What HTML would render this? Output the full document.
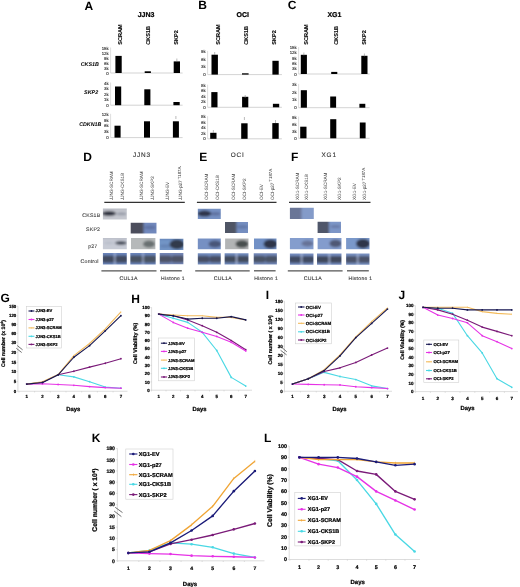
<!DOCTYPE html>
<html><head><meta charset="utf-8"><style>
html,body{margin:0;padding:0;background:#fff;}
svg{display:block;}
text{font-family:"Liberation Sans", sans-serif;text-rendering:geometricPrecision;}
</style></head><body>
<svg width="520" height="587" viewBox="0 0 520 587" font-family="Liberation Sans">
<defs>
<filter id="bl" x="-20%" y="-30%" width="140%" height="160%"><feGaussianBlur stdDeviation="0.9"/></filter>
<filter id="soft" x="0" y="0" width="520" height="587" filterUnits="userSpaceOnUse"><feGaussianBlur stdDeviation="0.35"/></filter>
<filter id="bl2" x="-20%" y="-30%" width="140%" height="160%"><feGaussianBlur stdDeviation="0.5"/></filter>
</defs>
<rect x="0" y="0" width="520" height="587" fill="#fff"/>
<g filter="url(#soft)">
<rect x="0" y="0" width="520" height="587" fill="#fff"/>
<text x="84.50" y="9.60" font-size="12" text-anchor="start" font-weight="bold" font-style="normal" fill="#000" >A</text>
<text x="146.00" y="17.00" font-size="7" text-anchor="middle" font-weight="bold" font-style="normal" fill="#000" stroke="#000" stroke-width="0.22" >JJN3</text>
<text transform="translate(121.50,44.80) rotate(-90)" x="0" y="0" font-size="5.6" text-anchor="start" font-weight="bold" fill="#000" stroke="#000" stroke-width="0.08" >SCRAM</text>
<text transform="translate(149.90,44.80) rotate(-90)" x="0" y="0" font-size="5.6" text-anchor="start" font-weight="bold" fill="#000" stroke="#000" stroke-width="0.08" >CKS1B</text>
<text transform="translate(178.20,44.80) rotate(-90)" x="0" y="0" font-size="5.6" text-anchor="start" font-weight="bold" fill="#000" stroke="#000" stroke-width="0.08" >SKP2</text>
<line x1="110.60" y1="47.50" x2="110.60" y2="73.00" stroke="#c8c8c8" stroke-width="0.6" />
<line x1="110.60" y1="73.00" x2="182.60" y2="73.00" stroke="#c8c8c8" stroke-width="0.8" />
<text x="108.60" y="49.50" font-size="4.3" text-anchor="end" font-weight="normal" font-style="normal" fill="#333" stroke="#333" stroke-width="0.14" >15k</text>
<text x="108.60" y="54.50" font-size="4.3" text-anchor="end" font-weight="normal" font-style="normal" fill="#333" stroke="#333" stroke-width="0.14" >12k</text>
<text x="108.60" y="59.50" font-size="4.3" text-anchor="end" font-weight="normal" font-style="normal" fill="#333" stroke="#333" stroke-width="0.14" >9k</text>
<text x="108.60" y="64.50" font-size="4.3" text-anchor="end" font-weight="normal" font-style="normal" fill="#333" stroke="#333" stroke-width="0.14" >6k</text>
<text x="108.60" y="69.50" font-size="4.3" text-anchor="end" font-weight="normal" font-style="normal" fill="#333" stroke="#333" stroke-width="0.14" >3k</text>
<text x="108.60" y="74.50" font-size="4.3" text-anchor="end" font-weight="normal" font-style="normal" fill="#333" stroke="#333" stroke-width="0.14" >0</text>
<rect x="115.40" y="55.90" width="6.30" height="17.10" fill="#000" />
<rect x="144.70" y="71.30" width="6.20" height="1.70" fill="#000" />
<rect x="173.70" y="61.40" width="6.30" height="11.60" fill="#000" />
<line x1="176.85" y1="58.50" x2="176.85" y2="61.50" stroke="#777" stroke-width="0.5" />
<line x1="110.60" y1="82.50" x2="110.60" y2="105.20" stroke="#c8c8c8" stroke-width="0.6" />
<line x1="110.60" y1="105.20" x2="182.60" y2="105.20" stroke="#c8c8c8" stroke-width="0.8" />
<text x="108.60" y="84.50" font-size="4.3" text-anchor="end" font-weight="normal" font-style="normal" fill="#333" stroke="#333" stroke-width="0.14" >4k</text>
<text x="108.60" y="90.00" font-size="4.3" text-anchor="end" font-weight="normal" font-style="normal" fill="#333" stroke="#333" stroke-width="0.14" >3k</text>
<text x="108.60" y="95.50" font-size="4.3" text-anchor="end" font-weight="normal" font-style="normal" fill="#333" stroke="#333" stroke-width="0.14" >2k</text>
<text x="108.60" y="101.00" font-size="4.3" text-anchor="end" font-weight="normal" font-style="normal" fill="#333" stroke="#333" stroke-width="0.14" >1k</text>
<text x="108.60" y="106.50" font-size="4.3" text-anchor="end" font-weight="normal" font-style="normal" fill="#333" stroke="#333" stroke-width="0.14" >0</text>
<rect x="115.00" y="86.50" width="6.20" height="18.70" fill="#000" />
<rect x="144.30" y="89.30" width="6.10" height="15.90" fill="#000" />
<rect x="173.40" y="102.00" width="6.30" height="3.20" fill="#000" />
<line x1="110.60" y1="113.80" x2="110.60" y2="137.60" stroke="#c8c8c8" stroke-width="0.6" />
<line x1="110.60" y1="137.60" x2="182.60" y2="137.60" stroke="#c8c8c8" stroke-width="0.8" />
<text x="108.60" y="115.80" font-size="4.3" text-anchor="end" font-weight="normal" font-style="normal" fill="#333" stroke="#333" stroke-width="0.14" >12k</text>
<text x="108.60" y="121.60" font-size="4.3" text-anchor="end" font-weight="normal" font-style="normal" fill="#333" stroke="#333" stroke-width="0.14" >9k</text>
<text x="108.60" y="127.40" font-size="4.3" text-anchor="end" font-weight="normal" font-style="normal" fill="#333" stroke="#333" stroke-width="0.14" >6k</text>
<text x="108.60" y="133.20" font-size="4.3" text-anchor="end" font-weight="normal" font-style="normal" fill="#333" stroke="#333" stroke-width="0.14" >3k</text>
<text x="108.60" y="139.00" font-size="4.3" text-anchor="end" font-weight="normal" font-style="normal" fill="#333" stroke="#333" stroke-width="0.14" >0</text>
<rect x="114.50" y="125.70" width="6.10" height="11.90" fill="#000" />
<rect x="144.00" y="121.30" width="6.00" height="16.30" fill="#000" />
<rect x="172.90" y="121.30" width="6.00" height="16.30" fill="#000" />
<line x1="175.90" y1="116.00" x2="175.90" y2="119.00" stroke="#777" stroke-width="0.5" />
<text x="198.30" y="9.20" font-size="12" text-anchor="start" font-weight="bold" font-style="normal" fill="#000" >B</text>
<text x="242.80" y="17.00" font-size="7" text-anchor="middle" font-weight="bold" font-style="normal" fill="#000" stroke="#000" stroke-width="0.22" >OCI</text>
<text transform="translate(220.20,44.80) rotate(-90)" x="0" y="0" font-size="5.6" text-anchor="start" font-weight="bold" fill="#000" stroke="#000" stroke-width="0.08" >SCRAM</text>
<text transform="translate(248.20,44.80) rotate(-90)" x="0" y="0" font-size="5.6" text-anchor="start" font-weight="bold" fill="#000" stroke="#000" stroke-width="0.08" >CKS1B</text>
<text transform="translate(276.10,44.80) rotate(-90)" x="0" y="0" font-size="5.6" text-anchor="start" font-weight="bold" fill="#000" stroke="#000" stroke-width="0.08" >SKP2</text>
<line x1="207.60" y1="50.90" x2="207.60" y2="74.60" stroke="#c8c8c8" stroke-width="0.6" />
<line x1="207.60" y1="74.60" x2="281.90" y2="74.60" stroke="#c8c8c8" stroke-width="0.8" />
<text x="205.60" y="52.90" font-size="4.3" text-anchor="end" font-weight="normal" font-style="normal" fill="#333" stroke="#333" stroke-width="0.14" >9k</text>
<text x="205.60" y="60.63" font-size="4.3" text-anchor="end" font-weight="normal" font-style="normal" fill="#333" stroke="#333" stroke-width="0.14" >6k</text>
<text x="205.60" y="68.37" font-size="4.3" text-anchor="end" font-weight="normal" font-style="normal" fill="#333" stroke="#333" stroke-width="0.14" >3k</text>
<text x="205.60" y="76.10" font-size="4.3" text-anchor="end" font-weight="normal" font-style="normal" fill="#333" stroke="#333" stroke-width="0.14" >0</text>
<rect x="211.50" y="54.70" width="6.40" height="19.90" fill="#000" />
<rect x="242.00" y="73.30" width="6.60" height="1.30" fill="#000" />
<rect x="272.40" y="60.80" width="6.30" height="13.80" fill="#000" />
<line x1="214.70" y1="52.00" x2="214.70" y2="55.00" stroke="#777" stroke-width="0.5" />
<line x1="207.60" y1="84.70" x2="207.60" y2="107.30" stroke="#c8c8c8" stroke-width="0.6" />
<line x1="207.60" y1="107.30" x2="281.90" y2="107.30" stroke="#c8c8c8" stroke-width="0.8" />
<text x="205.60" y="86.70" font-size="4.3" text-anchor="end" font-weight="normal" font-style="normal" fill="#333" stroke="#333" stroke-width="0.14" >8k</text>
<text x="205.60" y="92.22" font-size="4.3" text-anchor="end" font-weight="normal" font-style="normal" fill="#333" stroke="#333" stroke-width="0.14" >6k</text>
<text x="205.60" y="97.75" font-size="4.3" text-anchor="end" font-weight="normal" font-style="normal" fill="#333" stroke="#333" stroke-width="0.14" >4k</text>
<text x="205.60" y="103.28" font-size="4.3" text-anchor="end" font-weight="normal" font-style="normal" fill="#333" stroke="#333" stroke-width="0.14" >2k</text>
<text x="205.60" y="108.80" font-size="4.3" text-anchor="end" font-weight="normal" font-style="normal" fill="#333" stroke="#333" stroke-width="0.14" >0</text>
<rect x="211.30" y="92.10" width="6.20" height="15.20" fill="#000" />
<rect x="242.10" y="96.80" width="6.20" height="10.50" fill="#000" />
<rect x="272.90" y="103.80" width="6.30" height="3.50" fill="#000" />
<line x1="245.20" y1="95.00" x2="245.20" y2="98.00" stroke="#777" stroke-width="0.5" />
<line x1="207.60" y1="116.20" x2="207.60" y2="138.80" stroke="#c8c8c8" stroke-width="0.6" />
<line x1="207.60" y1="138.80" x2="281.90" y2="138.80" stroke="#c8c8c8" stroke-width="0.8" />
<text x="205.60" y="118.20" font-size="4.3" text-anchor="end" font-weight="normal" font-style="normal" fill="#333" stroke="#333" stroke-width="0.14" >8k</text>
<text x="205.60" y="123.73" font-size="4.3" text-anchor="end" font-weight="normal" font-style="normal" fill="#333" stroke="#333" stroke-width="0.14" >6k</text>
<text x="205.60" y="129.25" font-size="4.3" text-anchor="end" font-weight="normal" font-style="normal" fill="#333" stroke="#333" stroke-width="0.14" >4k</text>
<text x="205.60" y="134.78" font-size="4.3" text-anchor="end" font-weight="normal" font-style="normal" fill="#333" stroke="#333" stroke-width="0.14" >2k</text>
<text x="205.60" y="140.30" font-size="4.3" text-anchor="end" font-weight="normal" font-style="normal" fill="#333" stroke="#333" stroke-width="0.14" >0</text>
<rect x="210.20" y="132.80" width="6.30" height="6.00" fill="#000" />
<rect x="241.20" y="123.30" width="6.40" height="15.50" fill="#000" />
<rect x="272.30" y="123.10" width="6.40" height="15.70" fill="#000" />
<line x1="213.35" y1="130.00" x2="213.35" y2="133.00" stroke="#777" stroke-width="0.5" />
<line x1="244.40" y1="117.00" x2="244.40" y2="120.00" stroke="#777" stroke-width="0.5" />
<line x1="275.50" y1="120.00" x2="275.50" y2="123.00" stroke="#777" stroke-width="0.5" />
<text x="287.80" y="9.30" font-size="12" text-anchor="start" font-weight="bold" font-style="normal" fill="#000" >C</text>
<text x="334.40" y="17.00" font-size="7" text-anchor="middle" font-weight="bold" font-style="normal" fill="#000" stroke="#000" stroke-width="0.22" >XG1</text>
<text transform="translate(308.20,44.80) rotate(-90)" x="0" y="0" font-size="5.6" text-anchor="start" font-weight="bold" fill="#000" stroke="#000" stroke-width="0.08" >SCRAM</text>
<text transform="translate(337.60,44.80) rotate(-90)" x="0" y="0" font-size="5.6" text-anchor="start" font-weight="bold" fill="#000" stroke="#000" stroke-width="0.08" >CKS1B</text>
<text transform="translate(365.60,44.80) rotate(-90)" x="0" y="0" font-size="5.6" text-anchor="start" font-weight="bold" fill="#000" stroke="#000" stroke-width="0.08" >SKP2</text>
<line x1="298.60" y1="47.10" x2="298.60" y2="74.00" stroke="#c8c8c8" stroke-width="0.6" />
<line x1="298.60" y1="74.00" x2="369.60" y2="74.00" stroke="#c8c8c8" stroke-width="0.8" />
<text x="296.60" y="49.10" font-size="4.3" text-anchor="end" font-weight="normal" font-style="normal" fill="#333" stroke="#333" stroke-width="0.14" >15k</text>
<text x="296.60" y="54.38" font-size="4.3" text-anchor="end" font-weight="normal" font-style="normal" fill="#333" stroke="#333" stroke-width="0.14" >12k</text>
<text x="296.60" y="59.66" font-size="4.3" text-anchor="end" font-weight="normal" font-style="normal" fill="#333" stroke="#333" stroke-width="0.14" >9k</text>
<text x="296.60" y="64.94" font-size="4.3" text-anchor="end" font-weight="normal" font-style="normal" fill="#333" stroke="#333" stroke-width="0.14" >6k</text>
<text x="296.60" y="70.22" font-size="4.3" text-anchor="end" font-weight="normal" font-style="normal" fill="#333" stroke="#333" stroke-width="0.14" >3k</text>
<text x="296.60" y="75.50" font-size="4.3" text-anchor="end" font-weight="normal" font-style="normal" fill="#333" stroke="#333" stroke-width="0.14" >0</text>
<rect x="300.80" y="54.80" width="6.10" height="19.20" fill="#000" />
<rect x="331.20" y="71.90" width="6.10" height="2.10" fill="#000" />
<rect x="361.30" y="55.80" width="6.20" height="18.20" fill="#000" />
<line x1="303.85" y1="52.50" x2="303.85" y2="55.50" stroke="#777" stroke-width="0.5" />
<line x1="364.40" y1="53.50" x2="364.40" y2="56.50" stroke="#777" stroke-width="0.5" />
<line x1="298.60" y1="83.90" x2="298.60" y2="107.70" stroke="#c8c8c8" stroke-width="0.6" />
<line x1="298.60" y1="107.70" x2="369.60" y2="107.70" stroke="#c8c8c8" stroke-width="0.8" />
<text x="296.60" y="85.90" font-size="4.3" text-anchor="end" font-weight="normal" font-style="normal" fill="#333" stroke="#333" stroke-width="0.14" >3k</text>
<text x="296.60" y="93.67" font-size="4.3" text-anchor="end" font-weight="normal" font-style="normal" fill="#333" stroke="#333" stroke-width="0.14" >2k</text>
<text x="296.60" y="101.43" font-size="4.3" text-anchor="end" font-weight="normal" font-style="normal" fill="#333" stroke="#333" stroke-width="0.14" >1k</text>
<text x="296.60" y="109.20" font-size="4.3" text-anchor="end" font-weight="normal" font-style="normal" fill="#333" stroke="#333" stroke-width="0.14" >0</text>
<rect x="300.80" y="90.20" width="6.10" height="17.50" fill="#000" />
<rect x="330.20" y="96.50" width="5.90" height="11.20" fill="#000" />
<rect x="359.40" y="103.80" width="5.90" height="3.90" fill="#000" />
<line x1="298.60" y1="116.60" x2="298.60" y2="138.30" stroke="#c8c8c8" stroke-width="0.6" />
<line x1="298.60" y1="138.30" x2="369.60" y2="138.30" stroke="#c8c8c8" stroke-width="0.8" />
<text x="296.60" y="118.60" font-size="4.3" text-anchor="end" font-weight="normal" font-style="normal" fill="#333" stroke="#333" stroke-width="0.14" >9k</text>
<text x="296.60" y="125.67" font-size="4.3" text-anchor="end" font-weight="normal" font-style="normal" fill="#333" stroke="#333" stroke-width="0.14" >6k</text>
<text x="296.60" y="132.73" font-size="4.3" text-anchor="end" font-weight="normal" font-style="normal" fill="#333" stroke="#333" stroke-width="0.14" >3k</text>
<text x="296.60" y="139.80" font-size="4.3" text-anchor="end" font-weight="normal" font-style="normal" fill="#333" stroke="#333" stroke-width="0.14" >0</text>
<rect x="300.20" y="126.70" width="6.30" height="11.60" fill="#000" />
<rect x="330.20" y="119.20" width="6.10" height="19.10" fill="#000" />
<rect x="359.80" y="122.50" width="5.80" height="15.80" fill="#000" />
<text x="99.00" y="66.10" font-size="5.4" text-anchor="end" font-weight="bold" font-style="italic" fill="#000" stroke="#000" stroke-width="0.03" >CKS1B</text>
<text x="98.20" y="94.30" font-size="5.4" text-anchor="end" font-weight="bold" font-style="italic" fill="#000" stroke="#000" stroke-width="0.03" >SKP2</text>
<text x="101.30" y="126.30" font-size="5.3" text-anchor="end" font-weight="bold" font-style="italic" fill="#000" stroke="#000" stroke-width="0.03" >CDKN1B</text>
<text x="83.20" y="160.90" font-size="12" text-anchor="start" font-weight="bold" font-style="normal" fill="#000" >D</text>
<text x="142.00" y="157.40" font-size="6.4" text-anchor="middle" font-weight="normal" font-style="normal" fill="#333" stroke="#333" stroke-width="0.12" letter-spacing="0.9">JJN3</text>
<text transform="translate(112.80,200.00) rotate(-90)" x="0" y="0" font-size="4.7" text-anchor="start" font-weight="normal" fill="#444" stroke="#444" stroke-width="0.02" letter-spacing="-0.05">JJN3-SCRAM</text>
<text transform="translate(124.10,200.00) rotate(-90)" x="0" y="0" font-size="4.7" text-anchor="start" font-weight="normal" fill="#444" stroke="#444" stroke-width="0.02" letter-spacing="-0.05">JJN3-CKS1B</text>
<text transform="translate(142.70,200.00) rotate(-90)" x="0" y="0" font-size="4.7" text-anchor="start" font-weight="normal" fill="#444" stroke="#444" stroke-width="0.02" letter-spacing="-0.05">JJN3-SCRAM</text>
<text transform="translate(153.50,200.00) rotate(-90)" x="0" y="0" font-size="4.7" text-anchor="start" font-weight="normal" fill="#444" stroke="#444" stroke-width="0.02" letter-spacing="-0.05">JJN3-SKP2</text>
<text transform="translate(169.40,200.00) rotate(-90)" x="0" y="0" font-size="4.7" text-anchor="start" font-weight="normal" fill="#444" stroke="#444" stroke-width="0.02" letter-spacing="-0.05">JJN3-EV</text>
<text transform="translate(182.10,200.00) rotate(-90)" x="0" y="0" font-size="4.7" text-anchor="start" font-weight="normal" fill="#444" stroke="#444" stroke-width="0.02" letter-spacing="-0.05">JJN3-p27<tspan dx="1.0" dy="-1.3" font-size="4.4">T187A</tspan></text>
<line x1="104.30" y1="202.40" x2="184.80" y2="202.40" stroke="#333" stroke-width="1.1" />
<line x1="101.40" y1="270.80" x2="156.50" y2="270.80" stroke="#555" stroke-width="1.3" />
<line x1="160.00" y1="270.80" x2="181.80" y2="270.80" stroke="#555" stroke-width="1.3" />
<text x="128.60" y="279.80" font-size="5.2" text-anchor="middle" font-weight="normal" font-style="normal" fill="#3a3a3a" stroke="#3a3a3a" stroke-width="0.12" letter-spacing="0.3">CUL1A</text>
<text x="173.00" y="279.60" font-size="5.0" text-anchor="middle" font-weight="normal" font-style="normal" fill="#3a3a3a" stroke="#3a3a3a" stroke-width="0.12" letter-spacing="0.3">Histone 1</text>
<text x="199.20" y="160.90" font-size="12" text-anchor="start" font-weight="bold" font-style="normal" fill="#000" >E</text>
<text x="237.70" y="157.40" font-size="6.4" text-anchor="middle" font-weight="normal" font-style="normal" fill="#333" stroke="#333" stroke-width="0.12" letter-spacing="0.9">OCI</text>
<text transform="translate(207.80,200.00) rotate(-90)" x="0" y="0" font-size="4.7" text-anchor="start" font-weight="normal" fill="#444" stroke="#444" stroke-width="0.02" letter-spacing="-0.05">OCI-SCRAM</text>
<text transform="translate(218.60,200.00) rotate(-90)" x="0" y="0" font-size="4.7" text-anchor="start" font-weight="normal" fill="#444" stroke="#444" stroke-width="0.02" letter-spacing="-0.05">OCI-CKS1B</text>
<text transform="translate(234.80,200.00) rotate(-90)" x="0" y="0" font-size="4.7" text-anchor="start" font-weight="normal" fill="#444" stroke="#444" stroke-width="0.02" letter-spacing="-0.05">OCI-SCRAM</text>
<text transform="translate(246.10,200.00) rotate(-90)" x="0" y="0" font-size="4.7" text-anchor="start" font-weight="normal" fill="#444" stroke="#444" stroke-width="0.02" letter-spacing="-0.05">OCI-SKP2</text>
<text transform="translate(263.30,200.00) rotate(-90)" x="0" y="0" font-size="4.7" text-anchor="start" font-weight="normal" fill="#444" stroke="#444" stroke-width="0.02" letter-spacing="-0.05">OCI-EV</text>
<text transform="translate(273.70,200.00) rotate(-90)" x="0" y="0" font-size="4.7" text-anchor="start" font-weight="normal" fill="#444" stroke="#444" stroke-width="0.02" letter-spacing="-0.05">OCI-p27<tspan dx="1.0" dy="-1.3" font-size="4.4">T187A</tspan></text>
<line x1="196.90" y1="202.40" x2="276.50" y2="202.40" stroke="#333" stroke-width="1.1" />
<line x1="195.20" y1="270.80" x2="249.70" y2="270.80" stroke="#555" stroke-width="1.3" />
<line x1="254.00" y1="270.80" x2="275.60" y2="270.80" stroke="#555" stroke-width="1.3" />
<text x="222.90" y="279.80" font-size="5.2" text-anchor="middle" font-weight="normal" font-style="normal" fill="#3a3a3a" stroke="#3a3a3a" stroke-width="0.12" letter-spacing="0.3">CUL1A</text>
<text x="266.10" y="279.60" font-size="5.0" text-anchor="middle" font-weight="normal" font-style="normal" fill="#3a3a3a" stroke="#3a3a3a" stroke-width="0.12" letter-spacing="0.3">Histone 1</text>
<text x="291.00" y="160.90" font-size="12" text-anchor="start" font-weight="bold" font-style="normal" fill="#000" >F</text>
<text x="329.20" y="157.40" font-size="6.4" text-anchor="middle" font-weight="normal" font-style="normal" fill="#333" stroke="#333" stroke-width="0.12" letter-spacing="0.9">XG1</text>
<text transform="translate(298.90,200.00) rotate(-90)" x="0" y="0" font-size="4.7" text-anchor="start" font-weight="normal" fill="#444" stroke="#444" stroke-width="0.02" letter-spacing="-0.05">XG1-SCRAM</text>
<text transform="translate(308.30,200.00) rotate(-90)" x="0" y="0" font-size="4.7" text-anchor="start" font-weight="normal" fill="#444" stroke="#444" stroke-width="0.02" letter-spacing="-0.05">XG1-CKS1B</text>
<text transform="translate(326.60,200.00) rotate(-90)" x="0" y="0" font-size="4.7" text-anchor="start" font-weight="normal" fill="#444" stroke="#444" stroke-width="0.02" letter-spacing="-0.05">XG1-SCRAM</text>
<text transform="translate(341.30,200.00) rotate(-90)" x="0" y="0" font-size="4.7" text-anchor="start" font-weight="normal" fill="#444" stroke="#444" stroke-width="0.02" letter-spacing="-0.05">XG1-SKP2</text>
<text transform="translate(356.00,200.00) rotate(-90)" x="0" y="0" font-size="4.7" text-anchor="start" font-weight="normal" fill="#444" stroke="#444" stroke-width="0.02" letter-spacing="-0.05">XG1-EV</text>
<text transform="translate(366.10,200.00) rotate(-90)" x="0" y="0" font-size="4.7" text-anchor="start" font-weight="normal" fill="#444" stroke="#444" stroke-width="0.02" letter-spacing="-0.05">XG1-p27<tspan dx="1.0" dy="-1.3" font-size="4.4">T187A</tspan></text>
<line x1="289.00" y1="202.40" x2="370.50" y2="202.40" stroke="#333" stroke-width="1.1" />
<line x1="287.80" y1="270.80" x2="342.60" y2="270.80" stroke="#555" stroke-width="1.3" />
<line x1="347.00" y1="270.80" x2="368.80" y2="270.80" stroke="#555" stroke-width="1.3" />
<text x="312.80" y="279.80" font-size="5.2" text-anchor="middle" font-weight="normal" font-style="normal" fill="#3a3a3a" stroke="#3a3a3a" stroke-width="0.12" letter-spacing="0.3">CUL1A</text>
<text x="360.40" y="279.60" font-size="5.0" text-anchor="middle" font-weight="normal" font-style="normal" fill="#3a3a3a" stroke="#3a3a3a" stroke-width="0.12" letter-spacing="0.3">Histone 1</text>
<text x="82.30" y="217.00" font-size="5.2" text-anchor="start" font-weight="normal" font-style="normal" fill="#444" stroke="#444" stroke-width="0.12" letter-spacing="0.2">CKS1B</text>
<text x="86.10" y="231.40" font-size="5.2" text-anchor="start" font-weight="normal" font-style="normal" fill="#444" stroke="#444" stroke-width="0.12" letter-spacing="0.2">SKP2</text>
<text x="88.20" y="247.80" font-size="5.2" text-anchor="start" font-weight="normal" font-style="normal" fill="#444" stroke="#444" stroke-width="0.12" letter-spacing="0.2">p27</text>
<text x="80.60" y="262.80" font-size="5.2" text-anchor="start" font-weight="normal" font-style="normal" fill="#444" stroke="#444" stroke-width="0.12" letter-spacing="0.2">Control</text>
<clipPath id="c1"><rect x="102.90" y="208.50" width="23.90" height="10.90"/></clipPath>
<g clip-path="url(#c1)"><g filter="url(#bl)">
<rect x="100.90" y="206.50" width="27.90" height="14.90" fill="#c5c7cf" />
<rect x="100.90" y="206.50" width="27.90" height="3.00" fill="#b5b8c2" />
<ellipse cx="109.00" cy="213.60" rx="7.00" ry="2.50" fill="#2d303d" fill-opacity="0.97"/>
<ellipse cx="121.50" cy="213.80" rx="5.00" ry="1.50" fill="#8b909d" fill-opacity="0.8"/>
</g></g>
<clipPath id="c2"><rect x="130.70" y="222.70" width="25.80" height="10.70"/></clipPath>
<g clip-path="url(#c2)"><g filter="url(#bl)">
<rect x="128.70" y="220.70" width="29.80" height="14.70" fill="#7188bc" />
<rect x="128.00" y="220.70" width="15.60" height="14.70" fill="#4c4e5b" />
<ellipse cx="150.00" cy="227.40" rx="6.00" ry="1.80" fill="#536495" fill-opacity="0.6"/>
</g></g>
<clipPath id="c3"><rect x="102.90" y="238.00" width="23.90" height="11.30"/></clipPath>
<g clip-path="url(#c3)"><g filter="url(#bl)">
<rect x="100.90" y="236.00" width="27.90" height="15.30" fill="#c7cbd5" />
<rect x="100.90" y="236.00" width="27.90" height="3.00" fill="#b9bcc6" />
<ellipse cx="121.00" cy="243.00" rx="6.00" ry="1.90" fill="#414855" fill-opacity="0.95"/>
<ellipse cx="109.00" cy="243.00" rx="5.00" ry="1.20" fill="#b1b6c5" fill-opacity="0.6"/>
</g></g>
<clipPath id="c4"><rect x="131.00" y="238.00" width="24.40" height="11.30"/></clipPath>
<g clip-path="url(#c4)"><g filter="url(#bl)">
<rect x="129.00" y="236.00" width="28.40" height="15.30" fill="#b6b9ba" />
<ellipse cx="149.00" cy="244.00" rx="6.00" ry="3.60" fill="#616869" fill-opacity="0.9"/>
</g></g>
<clipPath id="c5"><rect x="159.70" y="238.80" width="23.70" height="11.20"/></clipPath>
<g clip-path="url(#c5)"><g filter="url(#bl)">
<rect x="157.70" y="236.80" width="27.70" height="15.20" fill="#7294c6" />
<rect x="157.70" y="236.80" width="27.70" height="3.00" fill="#6585b8" />
<ellipse cx="177.00" cy="244.40" rx="7.50" ry="4.80" fill="#2f3545" fill-opacity="0.95"/>
<ellipse cx="165.00" cy="246.00" rx="5.00" ry="1.50" fill="#536f9d" fill-opacity="0.5"/>
</g></g>
<clipPath id="c6"><rect x="102.90" y="253.00" width="23.90" height="11.60"/></clipPath>
<g clip-path="url(#c6)"><g filter="url(#bl)">
<rect x="100.90" y="251.00" width="27.90" height="15.60" fill="#6a85bc" />
<rect x="101.90" y="255.50" width="12.95" height="7.19" rx="2" fill="#3c4251" fill-opacity="0.86"/>
<rect x="114.85" y="255.50" width="12.95" height="7.19" rx="2" fill="#3c4251" fill-opacity="0.86"/>
<rect x="114.35" y="251.00" width="1.00" height="15.60" fill="#b8c6e6" />
</g></g>
<clipPath id="c7"><rect x="130.30" y="253.00" width="25.40" height="11.60"/></clipPath>
<g clip-path="url(#c7)"><g filter="url(#bl)">
<rect x="128.30" y="251.00" width="29.40" height="15.60" fill="#6a85bc" />
<rect x="129.30" y="255.50" width="13.70" height="7.19" rx="2" fill="#454a55" fill-opacity="0.86"/>
<rect x="143.00" y="255.50" width="13.70" height="7.19" rx="2" fill="#454a55" fill-opacity="0.86"/>
<rect x="142.50" y="251.00" width="1.00" height="15.60" fill="#b8c6e6" />
</g></g>
<clipPath id="c8"><rect x="159.70" y="253.00" width="23.70" height="11.30"/></clipPath>
<g clip-path="url(#c8)"><g filter="url(#bl)">
<rect x="157.70" y="251.00" width="27.70" height="15.30" fill="#7386b7" />
<rect x="158.70" y="255.45" width="12.85" height="7.01" rx="2" fill="#474b59" fill-opacity="0.86"/>
<rect x="171.55" y="255.45" width="12.85" height="7.01" rx="2" fill="#474b59" fill-opacity="0.86"/>
</g></g>
<clipPath id="c9"><rect x="197.80" y="208.70" width="23.00" height="10.30"/></clipPath>
<g clip-path="url(#c9)"><g filter="url(#bl)">
<rect x="195.80" y="206.70" width="27.00" height="14.30" fill="#7691c3" />
<ellipse cx="204.50" cy="213.60" rx="7.00" ry="3.00" fill="#293145" fill-opacity="0.95"/>
<ellipse cx="215.50" cy="213.80" rx="5.00" ry="1.80" fill="#546490" fill-opacity="0.7"/>
</g></g>
<clipPath id="c10"><rect x="225.10" y="222.10" width="22.90" height="10.80"/></clipPath>
<g clip-path="url(#c10)"><g filter="url(#bl)">
<rect x="223.10" y="220.10" width="26.90" height="14.80" fill="#748ec0" />
<rect x="223.00" y="220.10" width="13.50" height="14.80" fill="#505465" />
<ellipse cx="242.50" cy="226.80" rx="5.50" ry="1.60" fill="#556692" fill-opacity="0.6"/>
</g></g>
<clipPath id="c11"><rect x="197.80" y="238.40" width="23.00" height="10.90"/></clipPath>
<g clip-path="url(#c11)"><g filter="url(#bl)">
<rect x="195.80" y="236.40" width="27.00" height="14.90" fill="#7690c3" />
<ellipse cx="215.00" cy="244.00" rx="6.50" ry="3.60" fill="#475273" fill-opacity="0.92"/>
</g></g>
<clipPath id="c12"><rect x="225.10" y="238.40" width="23.40" height="10.90"/></clipPath>
<g clip-path="url(#c12)"><g filter="url(#bl)">
<rect x="223.10" y="236.40" width="27.40" height="14.90" fill="#b2b4b5" />
<ellipse cx="242.00" cy="244.00" rx="6.50" ry="3.80" fill="#424a4b" fill-opacity="0.95"/>
</g></g>
<clipPath id="c13"><rect x="254.00" y="238.40" width="22.50" height="10.90"/></clipPath>
<g clip-path="url(#c13)"><g filter="url(#bl)">
<rect x="252.00" y="236.40" width="26.50" height="14.90" fill="#7291c6" />
<ellipse cx="270.50" cy="244.00" rx="7.00" ry="4.50" fill="#293042" fill-opacity="0.95"/>
</g></g>
<clipPath id="c14"><rect x="197.80" y="253.30" width="23.00" height="11.10"/></clipPath>
<g clip-path="url(#c14)"><g filter="url(#bl)">
<rect x="195.80" y="251.30" width="27.00" height="15.10" fill="#718bbe" />
<rect x="196.80" y="255.71" width="12.50" height="6.88" rx="2" fill="#3f4454" fill-opacity="0.86"/>
<rect x="209.30" y="255.71" width="12.50" height="6.88" rx="2" fill="#3f4454" fill-opacity="0.86"/>
</g></g>
<clipPath id="c15"><rect x="224.60" y="253.30" width="23.90" height="11.10"/></clipPath>
<g clip-path="url(#c15)"><g filter="url(#bl)">
<rect x="222.60" y="251.30" width="27.90" height="15.10" fill="#718bbe" />
<rect x="223.60" y="255.71" width="12.95" height="6.88" rx="2" fill="#3b404d" fill-opacity="0.86"/>
<rect x="236.55" y="255.71" width="12.95" height="6.88" rx="2" fill="#3b404d" fill-opacity="0.86"/>
<rect x="236.05" y="251.30" width="1.00" height="15.10" fill="#b8c6e6" />
</g></g>
<clipPath id="c16"><rect x="253.70" y="253.30" width="23.20" height="11.10"/></clipPath>
<g clip-path="url(#c16)"><g filter="url(#bl)">
<rect x="251.70" y="251.30" width="27.20" height="15.10" fill="#7288b9" />
<rect x="252.70" y="255.71" width="12.60" height="6.88" rx="2" fill="#444957" fill-opacity="0.86"/>
<rect x="265.30" y="255.71" width="12.60" height="6.88" rx="2" fill="#444957" fill-opacity="0.86"/>
</g></g>
<clipPath id="c17"><rect x="289.90" y="207.80" width="23.90" height="11.20"/></clipPath>
<g clip-path="url(#c17)"><g filter="url(#bl)">
<rect x="287.90" y="205.80" width="27.90" height="15.20" fill="#849bc9" />
<rect x="287.00" y="205.80" width="14.50" height="15.20" fill="#6b7697" />
</g></g>
<clipPath id="c18"><rect x="317.60" y="221.80" width="23.40" height="11.20"/></clipPath>
<g clip-path="url(#c18)"><g filter="url(#bl)">
<rect x="315.60" y="219.80" width="27.40" height="15.20" fill="#7b95c7" />
<rect x="315.00" y="219.80" width="14.00" height="15.20" fill="#50566a" />
<ellipse cx="335.50" cy="226.50" rx="5.00" ry="1.50" fill="#5d6c93" fill-opacity="0.6"/>
</g></g>
<clipPath id="c19"><rect x="289.90" y="238.00" width="23.60" height="11.30"/></clipPath>
<g clip-path="url(#c19)"><g filter="url(#bl)">
<rect x="287.90" y="236.00" width="27.60" height="15.30" fill="#849dcd" />
<ellipse cx="307.50" cy="243.50" rx="6.00" ry="3.00" fill="#606b8d" fill-opacity="0.85"/>
</g></g>
<clipPath id="c20"><rect x="317.60" y="238.00" width="23.90" height="11.30"/></clipPath>
<g clip-path="url(#c20)"><g filter="url(#bl)">
<rect x="315.60" y="236.00" width="27.90" height="15.30" fill="#839ccd" />
<ellipse cx="335.50" cy="243.50" rx="6.00" ry="3.80" fill="#4c5470" fill-opacity="0.95"/>
</g></g>
<clipPath id="c21"><rect x="346.10" y="238.00" width="23.40" height="11.30"/></clipPath>
<g clip-path="url(#c21)"><g filter="url(#bl)">
<rect x="344.10" y="236.00" width="27.40" height="15.30" fill="#7a98ca" />
<ellipse cx="363.00" cy="243.70" rx="7.00" ry="4.80" fill="#2b3040" fill-opacity="0.95"/>
</g></g>
<clipPath id="c22"><rect x="289.90" y="253.50" width="23.60" height="11.30"/></clipPath>
<g clip-path="url(#c22)"><g filter="url(#bl)">
<rect x="287.90" y="251.50" width="27.60" height="15.30" fill="#748cbf" />
<rect x="288.90" y="255.95" width="12.80" height="7.01" rx="2" fill="#384054" fill-opacity="0.86"/>
<rect x="301.70" y="255.95" width="12.80" height="7.01" rx="2" fill="#384054" fill-opacity="0.86"/>
<rect x="301.20" y="251.50" width="1.00" height="15.30" fill="#b8c6e6" />
</g></g>
<clipPath id="c23"><rect x="317.00" y="253.50" width="24.50" height="11.30"/></clipPath>
<g clip-path="url(#c23)"><g filter="url(#bl)">
<rect x="315.00" y="251.50" width="28.50" height="15.30" fill="#748cbf" />
<rect x="316.00" y="255.95" width="13.25" height="7.01" rx="2" fill="#393e4d" fill-opacity="0.86"/>
<rect x="329.25" y="255.95" width="13.25" height="7.01" rx="2" fill="#393e4d" fill-opacity="0.86"/>
<rect x="328.75" y="251.50" width="1.00" height="15.30" fill="#b8c6e6" />
</g></g>
<clipPath id="c24"><rect x="346.10" y="253.50" width="23.40" height="11.30"/></clipPath>
<g clip-path="url(#c24)"><g filter="url(#bl)">
<rect x="344.10" y="251.50" width="27.40" height="15.30" fill="#7790c1" />
<rect x="345.10" y="255.95" width="12.70" height="7.01" rx="2" fill="#43485c" fill-opacity="0.86"/>
<rect x="357.80" y="255.95" width="12.70" height="7.01" rx="2" fill="#43485c" fill-opacity="0.86"/>
<rect x="357.30" y="251.50" width="1.00" height="15.30" fill="#b8c6e6" />
</g></g>
<text x="0.40" y="301.70" font-size="12" text-anchor="start" font-weight="bold" font-style="normal" fill="#000" >G</text>
<line x1="17.90" y1="306.20" x2="17.90" y2="391.25" stroke="#d4d4d4" stroke-width="0.8" />
<line x1="17.90" y1="391.25" x2="127.50" y2="391.25" stroke="#d4d4d4" stroke-width="0.8" />
<text x="16.30" y="392.88" font-size="4.4" text-anchor="end" font-weight="bold" font-style="normal" fill="#000" stroke="#000" stroke-width="0.22" >0</text>
<line x1="16.70" y1="391.30" x2="17.90" y2="391.30" stroke="#c8c8c8" stroke-width="0.6" />
<text x="16.30" y="382.98" font-size="4.4" text-anchor="end" font-weight="bold" font-style="normal" fill="#000" stroke="#000" stroke-width="0.22" >5</text>
<line x1="16.70" y1="381.40" x2="17.90" y2="381.40" stroke="#c8c8c8" stroke-width="0.6" />
<text x="16.30" y="373.18" font-size="4.4" text-anchor="end" font-weight="bold" font-style="normal" fill="#000" stroke="#000" stroke-width="0.22" >10</text>
<line x1="16.70" y1="371.60" x2="17.90" y2="371.60" stroke="#c8c8c8" stroke-width="0.6" />
<text x="16.30" y="363.88" font-size="4.4" text-anchor="end" font-weight="bold" font-style="normal" fill="#000" stroke="#000" stroke-width="0.22" >15</text>
<line x1="16.70" y1="362.30" x2="17.90" y2="362.30" stroke="#c8c8c8" stroke-width="0.6" />
<text x="16.30" y="353.78" font-size="4.4" text-anchor="end" font-weight="bold" font-style="normal" fill="#000" stroke="#000" stroke-width="0.22" >20</text>
<line x1="16.70" y1="352.20" x2="17.90" y2="352.20" stroke="#c8c8c8" stroke-width="0.6" />
<text x="16.30" y="343.88" font-size="4.4" text-anchor="end" font-weight="bold" font-style="normal" fill="#000" stroke="#000" stroke-width="0.22" >30</text>
<line x1="16.70" y1="342.30" x2="17.90" y2="342.30" stroke="#c8c8c8" stroke-width="0.6" />
<text x="16.30" y="334.88" font-size="4.4" text-anchor="end" font-weight="bold" font-style="normal" fill="#000" stroke="#000" stroke-width="0.22" >60</text>
<line x1="16.70" y1="333.30" x2="17.90" y2="333.30" stroke="#c8c8c8" stroke-width="0.6" />
<text x="16.30" y="325.88" font-size="4.4" text-anchor="end" font-weight="bold" font-style="normal" fill="#000" stroke="#000" stroke-width="0.22" >90</text>
<line x1="16.70" y1="324.30" x2="17.90" y2="324.30" stroke="#c8c8c8" stroke-width="0.6" />
<text x="16.30" y="317.48" font-size="4.4" text-anchor="end" font-weight="bold" font-style="normal" fill="#000" stroke="#000" stroke-width="0.22" >120</text>
<line x1="16.70" y1="315.90" x2="17.90" y2="315.90" stroke="#c8c8c8" stroke-width="0.6" />
<text x="16.30" y="307.78" font-size="4.4" text-anchor="end" font-weight="bold" font-style="normal" fill="#000" stroke="#000" stroke-width="0.22" >150</text>
<line x1="16.70" y1="306.20" x2="17.90" y2="306.20" stroke="#c8c8c8" stroke-width="0.6" />
<text x="26.75" y="398.00" font-size="4.4" text-anchor="middle" font-weight="bold" font-style="normal" fill="#000" stroke="#000" stroke-width="0.22" >1</text>
<line x1="18.90" y1="391.25" x2="18.90" y2="392.45" stroke="#c8c8c8" stroke-width="0.6" />
<text x="42.45" y="398.00" font-size="4.4" text-anchor="middle" font-weight="bold" font-style="normal" fill="#000" stroke="#000" stroke-width="0.22" >2</text>
<line x1="34.60" y1="391.25" x2="34.60" y2="392.45" stroke="#c8c8c8" stroke-width="0.6" />
<text x="58.15" y="398.00" font-size="4.4" text-anchor="middle" font-weight="bold" font-style="normal" fill="#000" stroke="#000" stroke-width="0.22" >3</text>
<line x1="50.30" y1="391.25" x2="50.30" y2="392.45" stroke="#c8c8c8" stroke-width="0.6" />
<text x="73.85" y="398.00" font-size="4.4" text-anchor="middle" font-weight="bold" font-style="normal" fill="#000" stroke="#000" stroke-width="0.22" >4</text>
<line x1="66.00" y1="391.25" x2="66.00" y2="392.45" stroke="#c8c8c8" stroke-width="0.6" />
<text x="89.55" y="398.00" font-size="4.4" text-anchor="middle" font-weight="bold" font-style="normal" fill="#000" stroke="#000" stroke-width="0.22" >5</text>
<line x1="81.70" y1="391.25" x2="81.70" y2="392.45" stroke="#c8c8c8" stroke-width="0.6" />
<text x="105.25" y="398.00" font-size="4.4" text-anchor="middle" font-weight="bold" font-style="normal" fill="#000" stroke="#000" stroke-width="0.22" >6</text>
<line x1="97.40" y1="391.25" x2="97.40" y2="392.45" stroke="#c8c8c8" stroke-width="0.6" />
<text x="120.95" y="398.00" font-size="4.4" text-anchor="middle" font-weight="bold" font-style="normal" fill="#000" stroke="#000" stroke-width="0.22" >7</text>
<line x1="113.10" y1="391.25" x2="113.10" y2="392.45" stroke="#c8c8c8" stroke-width="0.6" />
<text x="73.30" y="411.30" font-size="5.9" text-anchor="middle" font-weight="bold" font-style="normal" fill="#000" stroke="#000" stroke-width="0.22" >Days</text>
<text transform="translate(4.90,343.50) rotate(-90)" x="0" y="0" font-size="5.2" text-anchor="middle" font-weight="bold" fill="#000" stroke="#000" stroke-width="0.22" >Cell number (x 10<tspan dy="-1.5" font-size="3.5">4</tspan><tspan dy="1.5">)</tspan></text>
<line x1="17.20" y1="345.50" x2="22.60" y2="349.80" stroke="#444" stroke-width="0.75" />
<line x1="16.30" y1="348.30" x2="21.70" y2="352.50" stroke="#444" stroke-width="0.75" />
<polyline points="26.75,384.09 42.45,382.51 58.15,374.74 73.85,376.89 89.55,381.70 105.25,387.10 120.95,388.19" fill="none" stroke="#4ad8e4" stroke-width="1.1" stroke-linejoin="round"/>
<circle cx="26.75" cy="384.09" r="0.90" fill="#4ad8e4"/>
<circle cx="42.45" cy="382.51" r="0.90" fill="#4ad8e4"/>
<circle cx="58.15" cy="374.74" r="0.90" fill="#4ad8e4"/>
<circle cx="73.85" cy="376.89" r="0.90" fill="#4ad8e4"/>
<circle cx="89.55" cy="381.70" r="0.90" fill="#4ad8e4"/>
<circle cx="105.25" cy="387.10" r="0.90" fill="#4ad8e4"/>
<circle cx="120.95" cy="388.19" r="0.90" fill="#4ad8e4"/>
<polyline points="26.75,384.09 42.45,382.51 58.15,374.79 73.85,371.23 89.55,367.14 105.25,363.23 120.95,358.66" fill="none" stroke="#7a1a78" stroke-width="1.1" stroke-linejoin="round"/>
<circle cx="26.75" cy="384.09" r="0.90" fill="#7a1a78"/>
<circle cx="42.45" cy="382.51" r="0.90" fill="#7a1a78"/>
<circle cx="58.15" cy="374.79" r="0.90" fill="#7a1a78"/>
<circle cx="73.85" cy="371.23" r="0.90" fill="#7a1a78"/>
<circle cx="89.55" cy="367.14" r="0.90" fill="#7a1a78"/>
<circle cx="105.25" cy="363.23" r="0.90" fill="#7a1a78"/>
<circle cx="120.95" cy="358.66" r="0.90" fill="#7a1a78"/>
<polyline points="26.75,384.09 42.45,383.78 58.15,384.51 73.85,385.30 89.55,386.61 105.25,387.60 120.95,388.19" fill="none" stroke="#e633e6" stroke-width="1.1" stroke-linejoin="round"/>
<circle cx="26.75" cy="384.09" r="0.90" fill="#e633e6"/>
<circle cx="42.45" cy="383.78" r="0.90" fill="#e633e6"/>
<circle cx="58.15" cy="384.51" r="0.90" fill="#e633e6"/>
<circle cx="73.85" cy="385.30" r="0.90" fill="#e633e6"/>
<circle cx="89.55" cy="386.61" r="0.90" fill="#e633e6"/>
<circle cx="105.25" cy="387.60" r="0.90" fill="#e633e6"/>
<circle cx="120.95" cy="388.19" r="0.90" fill="#e633e6"/>
<polyline points="26.75,384.09 42.45,381.80 58.15,374.54 73.85,355.63 89.55,343.49 105.25,328.80 120.95,311.89" fill="none" stroke="#f3bb5c" stroke-width="1.1" stroke-linejoin="round"/>
<rect x="26.57" y="383.19" width="0.36" height="1.80" fill="#f3bb5c"/>
<rect x="42.27" y="380.90" width="0.36" height="1.80" fill="#f3bb5c"/>
<rect x="57.97" y="373.64" width="0.36" height="1.80" fill="#f3bb5c"/>
<rect x="73.67" y="354.73" width="0.36" height="1.80" fill="#f3bb5c"/>
<rect x="89.37" y="342.59" width="0.36" height="1.80" fill="#f3bb5c"/>
<rect x="105.07" y="327.90" width="0.36" height="1.80" fill="#f3bb5c"/>
<rect x="120.77" y="310.99" width="0.36" height="1.80" fill="#f3bb5c"/>
<polyline points="26.75,384.09 42.45,382.51 58.15,374.79 73.85,357.25 89.55,345.67 105.25,330.81 120.95,315.71" fill="none" stroke="#161650" stroke-width="1.1" stroke-linejoin="round"/>
<circle cx="26.75" cy="384.09" r="0.90" fill="#161650"/>
<circle cx="42.45" cy="382.51" r="0.90" fill="#161650"/>
<circle cx="58.15" cy="374.79" r="0.90" fill="#161650"/>
<circle cx="73.85" cy="357.25" r="0.90" fill="#161650"/>
<circle cx="89.55" cy="345.67" r="0.90" fill="#161650"/>
<circle cx="105.25" cy="330.81" r="0.90" fill="#161650"/>
<circle cx="120.95" cy="315.71" r="0.90" fill="#161650"/>
<rect x="26.50" y="306.50" width="35.00" height="41.50" fill="#fff" stroke="#d0d0d0" stroke-width="0.6"/>
<line x1="28.50" y1="311.00" x2="34.40" y2="311.00" stroke="#161650" stroke-width="1.1" />
<circle cx="31.45" cy="311.00" r="0.90" fill="#161650"/>
<text x="35.60" y="312.48" font-size="4.1" text-anchor="start" font-weight="bold" font-style="normal" fill="#000" stroke="#000" stroke-width="0.22" >JJN3-EV</text>
<line x1="28.50" y1="319.50" x2="34.40" y2="319.50" stroke="#e633e6" stroke-width="1.1" />
<circle cx="31.45" cy="319.50" r="0.90" fill="#e633e6"/>
<text x="35.60" y="320.98" font-size="4.1" text-anchor="start" font-weight="bold" font-style="normal" fill="#000" stroke="#000" stroke-width="0.22" >JJN3-p27</text>
<line x1="28.50" y1="327.90" x2="34.40" y2="327.90" stroke="#f3bb5c" stroke-width="1.1" />
<rect x="31.27" y="327.00" width="0.36" height="1.80" fill="#f3bb5c"/>
<text x="35.60" y="329.38" font-size="4.1" text-anchor="start" font-weight="bold" font-style="normal" fill="#000" stroke="#000" stroke-width="0.22" >JJN3-SCRAM</text>
<line x1="28.50" y1="336.30" x2="34.40" y2="336.30" stroke="#4ad8e4" stroke-width="1.1" />
<circle cx="31.45" cy="336.30" r="0.90" fill="#4ad8e4"/>
<text x="35.60" y="337.78" font-size="4.1" text-anchor="start" font-weight="bold" font-style="normal" fill="#000" stroke="#000" stroke-width="0.22" >JJN3-CKS1B</text>
<line x1="28.50" y1="344.40" x2="34.40" y2="344.40" stroke="#7a1a78" stroke-width="1.1" />
<circle cx="31.45" cy="344.40" r="0.90" fill="#7a1a78"/>
<text x="35.60" y="345.88" font-size="4.1" text-anchor="start" font-weight="bold" font-style="normal" fill="#000" stroke="#000" stroke-width="0.22" >JJN3-SKP2</text>
<text x="131.30" y="302.70" font-size="12" text-anchor="start" font-weight="bold" font-style="normal" fill="#000" >H</text>
<line x1="151.60" y1="307.50" x2="151.60" y2="390.20" stroke="#d4d4d4" stroke-width="0.8" />
<line x1="151.60" y1="390.20" x2="252.00" y2="390.20" stroke="#d4d4d4" stroke-width="0.8" />
<text x="149.60" y="391.78" font-size="4.4" text-anchor="end" font-weight="bold" font-style="normal" fill="#000" stroke="#000" stroke-width="0.22" >0</text>
<line x1="150.40" y1="390.20" x2="151.60" y2="390.20" stroke="#c8c8c8" stroke-width="0.6" />
<text x="149.60" y="383.51" font-size="4.4" text-anchor="end" font-weight="bold" font-style="normal" fill="#000" stroke="#000" stroke-width="0.22" >10</text>
<line x1="150.40" y1="381.93" x2="151.60" y2="381.93" stroke="#c8c8c8" stroke-width="0.6" />
<text x="149.60" y="375.24" font-size="4.4" text-anchor="end" font-weight="bold" font-style="normal" fill="#000" stroke="#000" stroke-width="0.22" >20</text>
<line x1="150.40" y1="373.66" x2="151.60" y2="373.66" stroke="#c8c8c8" stroke-width="0.6" />
<text x="149.60" y="366.97" font-size="4.4" text-anchor="end" font-weight="bold" font-style="normal" fill="#000" stroke="#000" stroke-width="0.22" >30</text>
<line x1="150.40" y1="365.39" x2="151.60" y2="365.39" stroke="#c8c8c8" stroke-width="0.6" />
<text x="149.60" y="358.70" font-size="4.4" text-anchor="end" font-weight="bold" font-style="normal" fill="#000" stroke="#000" stroke-width="0.22" >40</text>
<line x1="150.40" y1="357.12" x2="151.60" y2="357.12" stroke="#c8c8c8" stroke-width="0.6" />
<text x="149.60" y="350.43" font-size="4.4" text-anchor="end" font-weight="bold" font-style="normal" fill="#000" stroke="#000" stroke-width="0.22" >50</text>
<line x1="150.40" y1="348.85" x2="151.60" y2="348.85" stroke="#c8c8c8" stroke-width="0.6" />
<text x="149.60" y="342.16" font-size="4.4" text-anchor="end" font-weight="bold" font-style="normal" fill="#000" stroke="#000" stroke-width="0.22" >60</text>
<line x1="150.40" y1="340.58" x2="151.60" y2="340.58" stroke="#c8c8c8" stroke-width="0.6" />
<text x="149.60" y="333.89" font-size="4.4" text-anchor="end" font-weight="bold" font-style="normal" fill="#000" stroke="#000" stroke-width="0.22" >70</text>
<line x1="150.40" y1="332.31" x2="151.60" y2="332.31" stroke="#c8c8c8" stroke-width="0.6" />
<text x="149.60" y="325.62" font-size="4.4" text-anchor="end" font-weight="bold" font-style="normal" fill="#000" stroke="#000" stroke-width="0.22" >80</text>
<line x1="150.40" y1="324.04" x2="151.60" y2="324.04" stroke="#c8c8c8" stroke-width="0.6" />
<text x="149.60" y="317.35" font-size="4.4" text-anchor="end" font-weight="bold" font-style="normal" fill="#000" stroke="#000" stroke-width="0.22" >90</text>
<line x1="150.40" y1="315.77" x2="151.60" y2="315.77" stroke="#c8c8c8" stroke-width="0.6" />
<text x="149.60" y="309.08" font-size="4.4" text-anchor="end" font-weight="bold" font-style="normal" fill="#000" stroke="#000" stroke-width="0.22" >100</text>
<line x1="150.40" y1="307.50" x2="151.60" y2="307.50" stroke="#c8c8c8" stroke-width="0.6" />
<text x="158.75" y="398.00" font-size="4.4" text-anchor="middle" font-weight="bold" font-style="normal" fill="#000" stroke="#000" stroke-width="0.22" >1</text>
<line x1="151.50" y1="390.20" x2="151.50" y2="391.40" stroke="#c8c8c8" stroke-width="0.6" />
<text x="173.25" y="398.00" font-size="4.4" text-anchor="middle" font-weight="bold" font-style="normal" fill="#000" stroke="#000" stroke-width="0.22" >2</text>
<line x1="166.00" y1="390.20" x2="166.00" y2="391.40" stroke="#c8c8c8" stroke-width="0.6" />
<text x="187.75" y="398.00" font-size="4.4" text-anchor="middle" font-weight="bold" font-style="normal" fill="#000" stroke="#000" stroke-width="0.22" >3</text>
<line x1="180.50" y1="390.20" x2="180.50" y2="391.40" stroke="#c8c8c8" stroke-width="0.6" />
<text x="202.25" y="398.00" font-size="4.4" text-anchor="middle" font-weight="bold" font-style="normal" fill="#000" stroke="#000" stroke-width="0.22" >4</text>
<line x1="195.00" y1="390.20" x2="195.00" y2="391.40" stroke="#c8c8c8" stroke-width="0.6" />
<text x="216.75" y="398.00" font-size="4.4" text-anchor="middle" font-weight="bold" font-style="normal" fill="#000" stroke="#000" stroke-width="0.22" >5</text>
<line x1="209.50" y1="390.20" x2="209.50" y2="391.40" stroke="#c8c8c8" stroke-width="0.6" />
<text x="231.25" y="398.00" font-size="4.4" text-anchor="middle" font-weight="bold" font-style="normal" fill="#000" stroke="#000" stroke-width="0.22" >6</text>
<line x1="224.00" y1="390.20" x2="224.00" y2="391.40" stroke="#c8c8c8" stroke-width="0.6" />
<text x="245.75" y="398.00" font-size="4.4" text-anchor="middle" font-weight="bold" font-style="normal" fill="#000" stroke="#000" stroke-width="0.22" >7</text>
<line x1="238.50" y1="390.20" x2="238.50" y2="391.40" stroke="#c8c8c8" stroke-width="0.6" />
<text x="199.60" y="410.60" font-size="5.9" text-anchor="middle" font-weight="bold" font-style="normal" fill="#000" stroke="#000" stroke-width="0.22" >Days</text>
<text transform="translate(137.20,343.40) rotate(-90)" x="0" y="0" font-size="5.3" text-anchor="middle" font-weight="bold" fill="#000" stroke="#000" stroke-width="0.22" >Cell Viability (%)</text>
<polyline points="158.75,314.12 173.25,318.25 187.75,322.39 202.25,332.31 216.75,350.50 231.25,377.38 245.75,386.06" fill="none" stroke="#4ad8e4" stroke-width="1.1" stroke-linejoin="round"/>
<circle cx="158.75" cy="314.12" r="0.90" fill="#4ad8e4"/>
<circle cx="173.25" cy="318.25" r="0.90" fill="#4ad8e4"/>
<circle cx="187.75" cy="322.39" r="0.90" fill="#4ad8e4"/>
<circle cx="202.25" cy="332.31" r="0.90" fill="#4ad8e4"/>
<circle cx="216.75" cy="350.50" r="0.90" fill="#4ad8e4"/>
<circle cx="231.25" cy="377.38" r="0.90" fill="#4ad8e4"/>
<circle cx="245.75" cy="386.06" r="0.90" fill="#4ad8e4"/>
<polyline points="158.75,314.12 173.25,315.77 187.75,319.90 202.25,325.69 216.75,332.31 231.25,340.58 245.75,349.68" fill="none" stroke="#7a1a78" stroke-width="1.1" stroke-linejoin="round"/>
<circle cx="158.75" cy="314.12" r="0.90" fill="#7a1a78"/>
<circle cx="173.25" cy="315.77" r="0.90" fill="#7a1a78"/>
<circle cx="187.75" cy="319.90" r="0.90" fill="#7a1a78"/>
<circle cx="202.25" cy="325.69" r="0.90" fill="#7a1a78"/>
<circle cx="216.75" cy="332.31" r="0.90" fill="#7a1a78"/>
<circle cx="231.25" cy="340.58" r="0.90" fill="#7a1a78"/>
<circle cx="245.75" cy="349.68" r="0.90" fill="#7a1a78"/>
<polyline points="158.75,314.12 173.25,322.39 187.75,328.17 202.25,332.31 216.75,336.44 231.25,342.23 245.75,350.92" fill="none" stroke="#e633e6" stroke-width="1.1" stroke-linejoin="round"/>
<circle cx="158.75" cy="314.12" r="0.90" fill="#e633e6"/>
<circle cx="173.25" cy="322.39" r="0.90" fill="#e633e6"/>
<circle cx="187.75" cy="328.17" r="0.90" fill="#e633e6"/>
<circle cx="202.25" cy="332.31" r="0.90" fill="#e633e6"/>
<circle cx="216.75" cy="336.44" r="0.90" fill="#e633e6"/>
<circle cx="231.25" cy="342.23" r="0.90" fill="#e633e6"/>
<circle cx="245.75" cy="350.92" r="0.90" fill="#e633e6"/>
<polyline points="158.75,314.12 173.25,314.94 187.75,315.77 202.25,315.77 216.75,317.42 231.25,317.42 245.75,319.90" fill="none" stroke="#f3bb5c" stroke-width="1.1" stroke-linejoin="round"/>
<rect x="158.57" y="313.22" width="0.36" height="1.80" fill="#f3bb5c"/>
<rect x="173.07" y="314.04" width="0.36" height="1.80" fill="#f3bb5c"/>
<rect x="187.57" y="314.87" width="0.36" height="1.80" fill="#f3bb5c"/>
<rect x="202.07" y="314.87" width="0.36" height="1.80" fill="#f3bb5c"/>
<rect x="216.57" y="316.52" width="0.36" height="1.80" fill="#f3bb5c"/>
<rect x="231.07" y="316.52" width="0.36" height="1.80" fill="#f3bb5c"/>
<rect x="245.57" y="319.00" width="0.36" height="1.80" fill="#f3bb5c"/>
<polyline points="158.75,314.12 173.25,315.77 187.75,319.08 202.25,318.25 216.75,318.25 231.25,316.60 245.75,319.90" fill="none" stroke="#161650" stroke-width="1.1" stroke-linejoin="round"/>
<circle cx="158.75" cy="314.12" r="0.90" fill="#161650"/>
<circle cx="173.25" cy="315.77" r="0.90" fill="#161650"/>
<circle cx="187.75" cy="319.08" r="0.90" fill="#161650"/>
<circle cx="202.25" cy="318.25" r="0.90" fill="#161650"/>
<circle cx="216.75" cy="318.25" r="0.90" fill="#161650"/>
<circle cx="231.25" cy="316.60" r="0.90" fill="#161650"/>
<circle cx="245.75" cy="319.90" r="0.90" fill="#161650"/>
<rect x="158.30" y="338.00" width="36.30" height="42.80" fill="#fff" stroke="#d0d0d0" stroke-width="0.6"/>
<line x1="160.90" y1="343.20" x2="167.10" y2="343.20" stroke="#161650" stroke-width="1.1" />
<circle cx="164.00" cy="343.20" r="0.90" fill="#161650"/>
<text x="168.00" y="344.69" font-size="4.15" text-anchor="start" font-weight="bold" font-style="normal" fill="#000" stroke="#000" stroke-width="0.22" >JJN3-EV</text>
<line x1="160.90" y1="351.40" x2="167.10" y2="351.40" stroke="#e633e6" stroke-width="1.1" />
<circle cx="164.00" cy="351.40" r="0.90" fill="#e633e6"/>
<text x="168.00" y="352.89" font-size="4.15" text-anchor="start" font-weight="bold" font-style="normal" fill="#000" stroke="#000" stroke-width="0.22" >JJN3-p27</text>
<line x1="160.90" y1="360.10" x2="167.10" y2="360.10" stroke="#f3bb5c" stroke-width="1.1" />
<rect x="163.82" y="359.20" width="0.36" height="1.80" fill="#f3bb5c"/>
<text x="168.00" y="361.59" font-size="4.15" text-anchor="start" font-weight="bold" font-style="normal" fill="#000" stroke="#000" stroke-width="0.22" >JJN3-SCRAM</text>
<line x1="160.90" y1="368.30" x2="167.10" y2="368.30" stroke="#4ad8e4" stroke-width="1.1" />
<circle cx="164.00" cy="368.30" r="0.90" fill="#4ad8e4"/>
<text x="168.00" y="369.79" font-size="4.15" text-anchor="start" font-weight="bold" font-style="normal" fill="#000" stroke="#000" stroke-width="0.22" >JJN3-CKS1B</text>
<line x1="160.90" y1="377.00" x2="167.10" y2="377.00" stroke="#7a1a78" stroke-width="1.1" />
<circle cx="164.00" cy="377.00" r="0.90" fill="#7a1a78"/>
<text x="168.00" y="378.49" font-size="4.15" text-anchor="start" font-weight="bold" font-style="normal" fill="#000" stroke="#000" stroke-width="0.22" >JJN3-SKP2</text>
<text x="265.70" y="298.60" font-size="12" text-anchor="start" font-weight="bold" font-style="normal" fill="#000" >I</text>
<line x1="284.50" y1="301.25" x2="284.50" y2="391.25" stroke="#d4d4d4" stroke-width="0.8" />
<line x1="284.50" y1="391.25" x2="392.00" y2="391.25" stroke="#d4d4d4" stroke-width="0.8" />
<text x="282.70" y="392.87" font-size="4.5" text-anchor="end" font-weight="bold" font-style="normal" fill="#000" stroke="#000" stroke-width="0.22" >0</text>
<line x1="283.30" y1="391.25" x2="284.50" y2="391.25" stroke="#c8c8c8" stroke-width="0.6" />
<text x="282.70" y="383.87" font-size="4.5" text-anchor="end" font-weight="bold" font-style="normal" fill="#000" stroke="#000" stroke-width="0.22" >5</text>
<line x1="283.30" y1="382.25" x2="284.50" y2="382.25" stroke="#c8c8c8" stroke-width="0.6" />
<text x="282.70" y="374.87" font-size="4.5" text-anchor="end" font-weight="bold" font-style="normal" fill="#000" stroke="#000" stroke-width="0.22" >10</text>
<line x1="283.30" y1="373.25" x2="284.50" y2="373.25" stroke="#c8c8c8" stroke-width="0.6" />
<text x="282.70" y="365.87" font-size="4.5" text-anchor="end" font-weight="bold" font-style="normal" fill="#000" stroke="#000" stroke-width="0.22" >15</text>
<line x1="283.30" y1="364.25" x2="284.50" y2="364.25" stroke="#c8c8c8" stroke-width="0.6" />
<text x="282.70" y="356.87" font-size="4.5" text-anchor="end" font-weight="bold" font-style="normal" fill="#000" stroke="#000" stroke-width="0.22" >20</text>
<line x1="283.30" y1="355.25" x2="284.50" y2="355.25" stroke="#c8c8c8" stroke-width="0.6" />
<text x="282.70" y="347.87" font-size="4.5" text-anchor="end" font-weight="bold" font-style="normal" fill="#000" stroke="#000" stroke-width="0.22" >30</text>
<line x1="283.30" y1="346.25" x2="284.50" y2="346.25" stroke="#c8c8c8" stroke-width="0.6" />
<text x="282.70" y="338.87" font-size="4.5" text-anchor="end" font-weight="bold" font-style="normal" fill="#000" stroke="#000" stroke-width="0.22" >60</text>
<line x1="283.30" y1="337.25" x2="284.50" y2="337.25" stroke="#c8c8c8" stroke-width="0.6" />
<text x="282.70" y="329.87" font-size="4.5" text-anchor="end" font-weight="bold" font-style="normal" fill="#000" stroke="#000" stroke-width="0.22" >90</text>
<line x1="283.30" y1="328.25" x2="284.50" y2="328.25" stroke="#c8c8c8" stroke-width="0.6" />
<text x="282.70" y="320.87" font-size="4.5" text-anchor="end" font-weight="bold" font-style="normal" fill="#000" stroke="#000" stroke-width="0.22" >120</text>
<line x1="283.30" y1="319.25" x2="284.50" y2="319.25" stroke="#c8c8c8" stroke-width="0.6" />
<text x="282.70" y="311.87" font-size="4.5" text-anchor="end" font-weight="bold" font-style="normal" fill="#000" stroke="#000" stroke-width="0.22" >150</text>
<line x1="283.30" y1="310.25" x2="284.50" y2="310.25" stroke="#c8c8c8" stroke-width="0.6" />
<text x="282.70" y="302.87" font-size="4.5" text-anchor="end" font-weight="bold" font-style="normal" fill="#000" stroke="#000" stroke-width="0.22" >180</text>
<line x1="283.30" y1="301.25" x2="284.50" y2="301.25" stroke="#c8c8c8" stroke-width="0.6" />
<text x="292.50" y="398.00" font-size="4.5" text-anchor="middle" font-weight="bold" font-style="normal" fill="#000" stroke="#000" stroke-width="0.22" >1</text>
<line x1="284.58" y1="391.25" x2="284.58" y2="392.45" stroke="#c8c8c8" stroke-width="0.6" />
<text x="308.33" y="398.00" font-size="4.5" text-anchor="middle" font-weight="bold" font-style="normal" fill="#000" stroke="#000" stroke-width="0.22" >2</text>
<line x1="300.41" y1="391.25" x2="300.41" y2="392.45" stroke="#c8c8c8" stroke-width="0.6" />
<text x="324.16" y="398.00" font-size="4.5" text-anchor="middle" font-weight="bold" font-style="normal" fill="#000" stroke="#000" stroke-width="0.22" >3</text>
<line x1="316.25" y1="391.25" x2="316.25" y2="392.45" stroke="#c8c8c8" stroke-width="0.6" />
<text x="339.99" y="398.00" font-size="4.5" text-anchor="middle" font-weight="bold" font-style="normal" fill="#000" stroke="#000" stroke-width="0.22" >4</text>
<line x1="332.07" y1="391.25" x2="332.07" y2="392.45" stroke="#c8c8c8" stroke-width="0.6" />
<text x="355.82" y="398.00" font-size="4.5" text-anchor="middle" font-weight="bold" font-style="normal" fill="#000" stroke="#000" stroke-width="0.22" >5</text>
<line x1="347.90" y1="391.25" x2="347.90" y2="392.45" stroke="#c8c8c8" stroke-width="0.6" />
<text x="371.65" y="398.00" font-size="4.5" text-anchor="middle" font-weight="bold" font-style="normal" fill="#000" stroke="#000" stroke-width="0.22" >6</text>
<line x1="363.73" y1="391.25" x2="363.73" y2="392.45" stroke="#c8c8c8" stroke-width="0.6" />
<text x="387.48" y="398.00" font-size="4.5" text-anchor="middle" font-weight="bold" font-style="normal" fill="#000" stroke="#000" stroke-width="0.22" >7</text>
<line x1="379.56" y1="391.25" x2="379.56" y2="392.45" stroke="#c8c8c8" stroke-width="0.6" />
<text x="339.60" y="410.60" font-size="5.9" text-anchor="middle" font-weight="bold" font-style="normal" fill="#000" stroke="#000" stroke-width="0.22" >Days</text>
<text transform="translate(272.00,339.80) rotate(-90)" x="0" y="0" font-size="5.3" text-anchor="middle" font-weight="bold" fill="#000" stroke="#000" stroke-width="0.22" >Cell number ( x 10<tspan dy="-1.5" font-size="3.5">4</tspan><tspan dy="1.5">)</tspan></text>
<line x1="281.50" y1="347.20" x2="286.80" y2="351.80" stroke="#444" stroke-width="0.75" />
<line x1="280.60" y1="350.30" x2="286.60" y2="354.90" stroke="#444" stroke-width="0.75" />
<polyline points="292.50,384.05 308.33,378.65 324.16,372.35 339.99,376.49 355.82,379.55 371.65,385.85 387.48,388.55" fill="none" stroke="#4ad8e4" stroke-width="1.1" stroke-linejoin="round"/>
<circle cx="292.50" cy="384.05" r="0.90" fill="#4ad8e4"/>
<circle cx="308.33" cy="378.65" r="0.90" fill="#4ad8e4"/>
<circle cx="324.16" cy="372.35" r="0.90" fill="#4ad8e4"/>
<circle cx="339.99" cy="376.49" r="0.90" fill="#4ad8e4"/>
<circle cx="355.82" cy="379.55" r="0.90" fill="#4ad8e4"/>
<circle cx="371.65" cy="385.85" r="0.90" fill="#4ad8e4"/>
<circle cx="387.48" cy="388.55" r="0.90" fill="#4ad8e4"/>
<polyline points="292.50,384.05 308.33,378.65 324.16,371.45 339.99,367.85 355.82,362.45 371.65,354.98 387.48,348.05" fill="none" stroke="#7a1a78" stroke-width="1.1" stroke-linejoin="round"/>
<circle cx="292.50" cy="384.05" r="0.90" fill="#7a1a78"/>
<circle cx="308.33" cy="378.65" r="0.90" fill="#7a1a78"/>
<circle cx="324.16" cy="371.45" r="0.90" fill="#7a1a78"/>
<circle cx="339.99" cy="367.85" r="0.90" fill="#7a1a78"/>
<circle cx="355.82" cy="362.45" r="0.90" fill="#7a1a78"/>
<circle cx="371.65" cy="354.98" r="0.90" fill="#7a1a78"/>
<circle cx="387.48" cy="348.05" r="0.90" fill="#7a1a78"/>
<polyline points="292.50,384.05 308.33,384.41 324.16,384.77 339.99,384.95 355.82,386.75 371.65,387.65 387.48,388.55" fill="none" stroke="#e633e6" stroke-width="1.1" stroke-linejoin="round"/>
<circle cx="292.50" cy="384.05" r="0.90" fill="#e633e6"/>
<circle cx="308.33" cy="384.41" r="0.90" fill="#e633e6"/>
<circle cx="324.16" cy="384.77" r="0.90" fill="#e633e6"/>
<circle cx="339.99" cy="384.95" r="0.90" fill="#e633e6"/>
<circle cx="355.82" cy="386.75" r="0.90" fill="#e633e6"/>
<circle cx="371.65" cy="387.65" r="0.90" fill="#e633e6"/>
<circle cx="387.48" cy="388.55" r="0.90" fill="#e633e6"/>
<polyline points="292.50,384.05 308.33,378.65 324.16,369.65 339.99,354.80 355.82,336.95 371.65,321.65 387.48,307.85" fill="none" stroke="#f3bb5c" stroke-width="1.1" stroke-linejoin="round"/>
<rect x="292.32" y="383.15" width="0.36" height="1.80" fill="#f3bb5c"/>
<rect x="308.15" y="377.75" width="0.36" height="1.80" fill="#f3bb5c"/>
<rect x="323.98" y="368.75" width="0.36" height="1.80" fill="#f3bb5c"/>
<rect x="339.81" y="353.90" width="0.36" height="1.80" fill="#f3bb5c"/>
<rect x="355.64" y="336.05" width="0.36" height="1.80" fill="#f3bb5c"/>
<rect x="371.47" y="320.75" width="0.36" height="1.80" fill="#f3bb5c"/>
<rect x="387.30" y="306.95" width="0.36" height="1.80" fill="#f3bb5c"/>
<polyline points="292.50,384.05 308.33,378.65 324.16,370.55 339.99,355.97 355.82,337.55 371.65,323.45 387.48,309.05" fill="none" stroke="#161650" stroke-width="1.1" stroke-linejoin="round"/>
<circle cx="292.50" cy="384.05" r="0.90" fill="#161650"/>
<circle cx="308.33" cy="378.65" r="0.90" fill="#161650"/>
<circle cx="324.16" cy="370.55" r="0.90" fill="#161650"/>
<circle cx="339.99" cy="355.97" r="0.90" fill="#161650"/>
<circle cx="355.82" cy="337.55" r="0.90" fill="#161650"/>
<circle cx="371.65" cy="323.45" r="0.90" fill="#161650"/>
<circle cx="387.48" cy="309.05" r="0.90" fill="#161650"/>
<rect x="295.50" y="303.00" width="35.80" height="40.80" fill="#fff" stroke="#d0d0d0" stroke-width="0.6"/>
<line x1="298.00" y1="307.00" x2="304.50" y2="307.00" stroke="#161650" stroke-width="1.1" />
<circle cx="301.25" cy="307.00" r="0.90" fill="#161650"/>
<text x="305.80" y="308.58" font-size="4.4" text-anchor="start" font-weight="bold" font-style="normal" fill="#000" stroke="#000" stroke-width="0.22" >OCI-EV</text>
<line x1="298.00" y1="315.00" x2="304.50" y2="315.00" stroke="#e633e6" stroke-width="1.1" />
<circle cx="301.25" cy="315.00" r="0.90" fill="#e633e6"/>
<text x="305.80" y="316.58" font-size="4.4" text-anchor="start" font-weight="bold" font-style="normal" fill="#000" stroke="#000" stroke-width="0.22" >OCI-p27</text>
<line x1="298.00" y1="323.30" x2="304.50" y2="323.30" stroke="#f3bb5c" stroke-width="1.1" />
<rect x="301.07" y="322.40" width="0.36" height="1.80" fill="#f3bb5c"/>
<text x="305.80" y="324.88" font-size="4.4" text-anchor="start" font-weight="bold" font-style="normal" fill="#000" stroke="#000" stroke-width="0.22" >OCI-SCRAM</text>
<line x1="298.00" y1="331.80" x2="304.50" y2="331.80" stroke="#4ad8e4" stroke-width="1.1" />
<circle cx="301.25" cy="331.80" r="0.90" fill="#4ad8e4"/>
<text x="305.80" y="333.38" font-size="4.4" text-anchor="start" font-weight="bold" font-style="normal" fill="#000" stroke="#000" stroke-width="0.22" >OCI-CKS1B</text>
<line x1="298.00" y1="340.00" x2="304.50" y2="340.00" stroke="#7a1a78" stroke-width="1.1" />
<circle cx="301.25" cy="340.00" r="0.90" fill="#7a1a78"/>
<text x="305.80" y="341.58" font-size="4.4" text-anchor="start" font-weight="bold" font-style="normal" fill="#000" stroke="#000" stroke-width="0.22" >OCI-SKP2</text>
<text x="398.50" y="298.70" font-size="12" text-anchor="start" font-weight="bold" font-style="normal" fill="#000" >J</text>
<line x1="415.30" y1="305.60" x2="415.30" y2="391.60" stroke="#d4d4d4" stroke-width="0.8" />
<line x1="415.30" y1="391.60" x2="518.00" y2="391.60" stroke="#d4d4d4" stroke-width="0.8" />
<text x="413.50" y="393.22" font-size="4.5" text-anchor="end" font-weight="bold" font-style="normal" fill="#000" stroke="#000" stroke-width="0.22" >0</text>
<line x1="414.10" y1="391.60" x2="415.30" y2="391.60" stroke="#c8c8c8" stroke-width="0.6" />
<text x="413.50" y="384.62" font-size="4.5" text-anchor="end" font-weight="bold" font-style="normal" fill="#000" stroke="#000" stroke-width="0.22" >10</text>
<line x1="414.10" y1="383.00" x2="415.30" y2="383.00" stroke="#c8c8c8" stroke-width="0.6" />
<text x="413.50" y="376.02" font-size="4.5" text-anchor="end" font-weight="bold" font-style="normal" fill="#000" stroke="#000" stroke-width="0.22" >20</text>
<line x1="414.10" y1="374.40" x2="415.30" y2="374.40" stroke="#c8c8c8" stroke-width="0.6" />
<text x="413.50" y="367.42" font-size="4.5" text-anchor="end" font-weight="bold" font-style="normal" fill="#000" stroke="#000" stroke-width="0.22" >30</text>
<line x1="414.10" y1="365.80" x2="415.30" y2="365.80" stroke="#c8c8c8" stroke-width="0.6" />
<text x="413.50" y="358.82" font-size="4.5" text-anchor="end" font-weight="bold" font-style="normal" fill="#000" stroke="#000" stroke-width="0.22" >40</text>
<line x1="414.10" y1="357.20" x2="415.30" y2="357.20" stroke="#c8c8c8" stroke-width="0.6" />
<text x="413.50" y="350.22" font-size="4.5" text-anchor="end" font-weight="bold" font-style="normal" fill="#000" stroke="#000" stroke-width="0.22" >50</text>
<line x1="414.10" y1="348.60" x2="415.30" y2="348.60" stroke="#c8c8c8" stroke-width="0.6" />
<text x="413.50" y="341.62" font-size="4.5" text-anchor="end" font-weight="bold" font-style="normal" fill="#000" stroke="#000" stroke-width="0.22" >60</text>
<line x1="414.10" y1="340.00" x2="415.30" y2="340.00" stroke="#c8c8c8" stroke-width="0.6" />
<text x="413.50" y="333.02" font-size="4.5" text-anchor="end" font-weight="bold" font-style="normal" fill="#000" stroke="#000" stroke-width="0.22" >70</text>
<line x1="414.10" y1="331.40" x2="415.30" y2="331.40" stroke="#c8c8c8" stroke-width="0.6" />
<text x="413.50" y="324.42" font-size="4.5" text-anchor="end" font-weight="bold" font-style="normal" fill="#000" stroke="#000" stroke-width="0.22" >80</text>
<line x1="414.10" y1="322.80" x2="415.30" y2="322.80" stroke="#c8c8c8" stroke-width="0.6" />
<text x="413.50" y="315.82" font-size="4.5" text-anchor="end" font-weight="bold" font-style="normal" fill="#000" stroke="#000" stroke-width="0.22" >90</text>
<line x1="414.10" y1="314.20" x2="415.30" y2="314.20" stroke="#c8c8c8" stroke-width="0.6" />
<text x="413.50" y="307.22" font-size="4.5" text-anchor="end" font-weight="bold" font-style="normal" fill="#000" stroke="#000" stroke-width="0.22" >100</text>
<line x1="414.10" y1="305.60" x2="415.30" y2="305.60" stroke="#c8c8c8" stroke-width="0.6" />
<text x="423.00" y="399.80" font-size="4.5" text-anchor="middle" font-weight="bold" font-style="normal" fill="#000" stroke="#000" stroke-width="0.22" >1</text>
<line x1="415.60" y1="391.60" x2="415.60" y2="392.80" stroke="#c8c8c8" stroke-width="0.6" />
<text x="437.80" y="399.80" font-size="4.5" text-anchor="middle" font-weight="bold" font-style="normal" fill="#000" stroke="#000" stroke-width="0.22" >2</text>
<line x1="430.40" y1="391.60" x2="430.40" y2="392.80" stroke="#c8c8c8" stroke-width="0.6" />
<text x="452.60" y="399.80" font-size="4.5" text-anchor="middle" font-weight="bold" font-style="normal" fill="#000" stroke="#000" stroke-width="0.22" >3</text>
<line x1="445.20" y1="391.60" x2="445.20" y2="392.80" stroke="#c8c8c8" stroke-width="0.6" />
<text x="467.40" y="399.80" font-size="4.5" text-anchor="middle" font-weight="bold" font-style="normal" fill="#000" stroke="#000" stroke-width="0.22" >4</text>
<line x1="460.00" y1="391.60" x2="460.00" y2="392.80" stroke="#c8c8c8" stroke-width="0.6" />
<text x="482.20" y="399.80" font-size="4.5" text-anchor="middle" font-weight="bold" font-style="normal" fill="#000" stroke="#000" stroke-width="0.22" >5</text>
<line x1="474.80" y1="391.60" x2="474.80" y2="392.80" stroke="#c8c8c8" stroke-width="0.6" />
<text x="497.00" y="399.80" font-size="4.5" text-anchor="middle" font-weight="bold" font-style="normal" fill="#000" stroke="#000" stroke-width="0.22" >6</text>
<line x1="489.60" y1="391.60" x2="489.60" y2="392.80" stroke="#c8c8c8" stroke-width="0.6" />
<text x="511.80" y="399.80" font-size="4.5" text-anchor="middle" font-weight="bold" font-style="normal" fill="#000" stroke="#000" stroke-width="0.22" >7</text>
<line x1="504.40" y1="391.60" x2="504.40" y2="392.80" stroke="#c8c8c8" stroke-width="0.6" />
<text x="467.50" y="410.20" font-size="5.9" text-anchor="middle" font-weight="bold" font-style="normal" fill="#000" stroke="#000" stroke-width="0.22" >Days</text>
<text transform="translate(403.80,339.90) rotate(-90)" x="0" y="0" font-size="5.15" text-anchor="middle" font-weight="bold" fill="#000" stroke="#000" stroke-width="0.22" >Cell Viability (%)</text>
<polyline points="423.00,307.32 437.80,308.18 452.60,313.34 467.40,335.70 482.20,352.90 497.00,378.70 511.80,387.30" fill="none" stroke="#4ad8e4" stroke-width="1.1" stroke-linejoin="round"/>
<circle cx="423.00" cy="307.32" r="0.90" fill="#4ad8e4"/>
<circle cx="437.80" cy="308.18" r="0.90" fill="#4ad8e4"/>
<circle cx="452.60" cy="313.34" r="0.90" fill="#4ad8e4"/>
<circle cx="467.40" cy="335.70" r="0.90" fill="#4ad8e4"/>
<circle cx="482.20" cy="352.90" r="0.90" fill="#4ad8e4"/>
<circle cx="497.00" cy="378.70" r="0.90" fill="#4ad8e4"/>
<circle cx="511.80" cy="387.30" r="0.90" fill="#4ad8e4"/>
<polyline points="423.00,307.32 437.80,309.90 452.60,314.20 467.40,320.22 482.20,327.10 497.00,331.40 511.80,335.70" fill="none" stroke="#7a1a78" stroke-width="1.1" stroke-linejoin="round"/>
<circle cx="423.00" cy="307.32" r="0.90" fill="#7a1a78"/>
<circle cx="437.80" cy="309.90" r="0.90" fill="#7a1a78"/>
<circle cx="452.60" cy="314.20" r="0.90" fill="#7a1a78"/>
<circle cx="467.40" cy="320.22" r="0.90" fill="#7a1a78"/>
<circle cx="482.20" cy="327.10" r="0.90" fill="#7a1a78"/>
<circle cx="497.00" cy="331.40" r="0.90" fill="#7a1a78"/>
<circle cx="511.80" cy="335.70" r="0.90" fill="#7a1a78"/>
<polyline points="423.00,307.32 437.80,315.06 452.60,318.50 467.40,322.80 482.20,335.70 497.00,341.72 511.80,348.60" fill="none" stroke="#e633e6" stroke-width="1.1" stroke-linejoin="round"/>
<circle cx="423.00" cy="307.32" r="0.90" fill="#e633e6"/>
<circle cx="437.80" cy="315.06" r="0.90" fill="#e633e6"/>
<circle cx="452.60" cy="318.50" r="0.90" fill="#e633e6"/>
<circle cx="467.40" cy="322.80" r="0.90" fill="#e633e6"/>
<circle cx="482.20" cy="335.70" r="0.90" fill="#e633e6"/>
<circle cx="497.00" cy="341.72" r="0.90" fill="#e633e6"/>
<circle cx="511.80" cy="348.60" r="0.90" fill="#e633e6"/>
<polyline points="423.00,307.32 437.80,307.32 452.60,307.32 467.40,307.32 482.20,311.62 497.00,313.34 511.80,314.20" fill="none" stroke="#f3bb5c" stroke-width="1.1" stroke-linejoin="round"/>
<rect x="422.82" y="306.42" width="0.36" height="1.80" fill="#f3bb5c"/>
<rect x="437.62" y="306.42" width="0.36" height="1.80" fill="#f3bb5c"/>
<rect x="452.42" y="306.42" width="0.36" height="1.80" fill="#f3bb5c"/>
<rect x="467.22" y="306.42" width="0.36" height="1.80" fill="#f3bb5c"/>
<rect x="482.02" y="310.72" width="0.36" height="1.80" fill="#f3bb5c"/>
<rect x="496.82" y="312.44" width="0.36" height="1.80" fill="#f3bb5c"/>
<rect x="511.62" y="313.30" width="0.36" height="1.80" fill="#f3bb5c"/>
<polyline points="423.00,307.32 437.80,308.18 452.60,308.18 467.40,309.90 482.20,309.90 497.00,309.90 511.80,309.90" fill="none" stroke="#161650" stroke-width="1.1" stroke-linejoin="round"/>
<circle cx="423.00" cy="307.32" r="0.90" fill="#161650"/>
<circle cx="437.80" cy="308.18" r="0.90" fill="#161650"/>
<circle cx="452.60" cy="308.18" r="0.90" fill="#161650"/>
<circle cx="467.40" cy="309.90" r="0.90" fill="#161650"/>
<circle cx="482.20" cy="309.90" r="0.90" fill="#161650"/>
<circle cx="497.00" cy="309.90" r="0.90" fill="#161650"/>
<circle cx="511.80" cy="309.90" r="0.90" fill="#161650"/>
<rect x="423.80" y="340.00" width="35.00" height="42.50" fill="#fff" stroke="#d0d0d0" stroke-width="0.6"/>
<line x1="426.00" y1="344.30" x2="432.00" y2="344.30" stroke="#161650" stroke-width="1.1" />
<circle cx="429.00" cy="344.30" r="0.90" fill="#161650"/>
<text x="433.50" y="345.83" font-size="4.25" text-anchor="start" font-weight="bold" font-style="normal" fill="#000" stroke="#000" stroke-width="0.22" >OCI-EV</text>
<line x1="426.00" y1="352.50" x2="432.00" y2="352.50" stroke="#e633e6" stroke-width="1.1" />
<circle cx="429.00" cy="352.50" r="0.90" fill="#e633e6"/>
<text x="433.50" y="354.03" font-size="4.25" text-anchor="start" font-weight="bold" font-style="normal" fill="#000" stroke="#000" stroke-width="0.22" >OCI-p27</text>
<line x1="426.00" y1="361.80" x2="432.00" y2="361.80" stroke="#f3bb5c" stroke-width="1.1" />
<rect x="428.82" y="360.90" width="0.36" height="1.80" fill="#f3bb5c"/>
<text x="433.50" y="363.33" font-size="4.25" text-anchor="start" font-weight="bold" font-style="normal" fill="#000" stroke="#000" stroke-width="0.22" >OCI-SCRAM</text>
<line x1="426.00" y1="370.50" x2="432.00" y2="370.50" stroke="#4ad8e4" stroke-width="1.1" />
<circle cx="429.00" cy="370.50" r="0.90" fill="#4ad8e4"/>
<text x="433.50" y="372.03" font-size="4.25" text-anchor="start" font-weight="bold" font-style="normal" fill="#000" stroke="#000" stroke-width="0.22" >OCI-CKS1B</text>
<line x1="426.00" y1="378.80" x2="432.00" y2="378.80" stroke="#7a1a78" stroke-width="1.1" />
<circle cx="429.00" cy="378.80" r="0.90" fill="#7a1a78"/>
<text x="433.50" y="380.33" font-size="4.25" text-anchor="start" font-weight="bold" font-style="normal" fill="#000" stroke="#000" stroke-width="0.22" >OCI-SKP2</text>
<text x="91.70" y="441.80" font-size="12" text-anchor="start" font-weight="bold" font-style="normal" fill="#000" >K</text>
<line x1="117.40" y1="448.50" x2="117.40" y2="560.80" stroke="#d4d4d4" stroke-width="0.8" />
<line x1="117.40" y1="560.80" x2="264.50" y2="560.80" stroke="#d4d4d4" stroke-width="0.8" />
<text x="114.90" y="562.64" font-size="5.1" text-anchor="end" font-weight="bold" font-style="normal" fill="#000" stroke="#000" stroke-width="0.22" >0</text>
<line x1="116.20" y1="560.80" x2="117.40" y2="560.80" stroke="#c8c8c8" stroke-width="0.6" />
<text x="114.90" y="551.41" font-size="5.1" text-anchor="end" font-weight="bold" font-style="normal" fill="#000" stroke="#000" stroke-width="0.22" >5</text>
<line x1="116.20" y1="549.57" x2="117.40" y2="549.57" stroke="#c8c8c8" stroke-width="0.6" />
<text x="114.90" y="540.18" font-size="5.1" text-anchor="end" font-weight="bold" font-style="normal" fill="#000" stroke="#000" stroke-width="0.22" >10</text>
<line x1="116.20" y1="538.34" x2="117.40" y2="538.34" stroke="#c8c8c8" stroke-width="0.6" />
<text x="114.90" y="528.95" font-size="5.1" text-anchor="end" font-weight="bold" font-style="normal" fill="#000" stroke="#000" stroke-width="0.22" >15</text>
<line x1="116.20" y1="527.11" x2="117.40" y2="527.11" stroke="#c8c8c8" stroke-width="0.6" />
<text x="114.90" y="517.72" font-size="5.1" text-anchor="end" font-weight="bold" font-style="normal" fill="#000" stroke="#000" stroke-width="0.22" >20</text>
<line x1="116.20" y1="515.88" x2="117.40" y2="515.88" stroke="#c8c8c8" stroke-width="0.6" />
<text x="114.90" y="506.49" font-size="5.1" text-anchor="end" font-weight="bold" font-style="normal" fill="#000" stroke="#000" stroke-width="0.22" >30</text>
<line x1="116.20" y1="504.65" x2="117.40" y2="504.65" stroke="#c8c8c8" stroke-width="0.6" />
<text x="114.90" y="495.26" font-size="5.1" text-anchor="end" font-weight="bold" font-style="normal" fill="#000" stroke="#000" stroke-width="0.22" >60</text>
<line x1="116.20" y1="493.42" x2="117.40" y2="493.42" stroke="#c8c8c8" stroke-width="0.6" />
<text x="114.90" y="484.03" font-size="5.1" text-anchor="end" font-weight="bold" font-style="normal" fill="#000" stroke="#000" stroke-width="0.22" >90</text>
<line x1="116.20" y1="482.19" x2="117.40" y2="482.19" stroke="#c8c8c8" stroke-width="0.6" />
<text x="114.90" y="472.80" font-size="5.1" text-anchor="end" font-weight="bold" font-style="normal" fill="#000" stroke="#000" stroke-width="0.22" >120</text>
<line x1="116.20" y1="470.96" x2="117.40" y2="470.96" stroke="#c8c8c8" stroke-width="0.6" />
<text x="114.90" y="461.57" font-size="5.1" text-anchor="end" font-weight="bold" font-style="normal" fill="#000" stroke="#000" stroke-width="0.22" >150</text>
<line x1="116.20" y1="459.73" x2="117.40" y2="459.73" stroke="#c8c8c8" stroke-width="0.6" />
<text x="114.90" y="450.34" font-size="5.1" text-anchor="end" font-weight="bold" font-style="normal" fill="#000" stroke="#000" stroke-width="0.22" >180</text>
<line x1="116.20" y1="448.50" x2="117.40" y2="448.50" stroke="#c8c8c8" stroke-width="0.6" />
<text x="128.30" y="569.70" font-size="5.1" text-anchor="middle" font-weight="bold" font-style="normal" fill="#000" stroke="#000" stroke-width="0.22" >1</text>
<line x1="117.75" y1="560.80" x2="117.75" y2="562.00" stroke="#c8c8c8" stroke-width="0.6" />
<text x="149.40" y="569.70" font-size="5.1" text-anchor="middle" font-weight="bold" font-style="normal" fill="#000" stroke="#000" stroke-width="0.22" >2</text>
<line x1="138.85" y1="560.80" x2="138.85" y2="562.00" stroke="#c8c8c8" stroke-width="0.6" />
<text x="170.50" y="569.70" font-size="5.1" text-anchor="middle" font-weight="bold" font-style="normal" fill="#000" stroke="#000" stroke-width="0.22" >3</text>
<line x1="159.95" y1="560.80" x2="159.95" y2="562.00" stroke="#c8c8c8" stroke-width="0.6" />
<text x="191.60" y="569.70" font-size="5.1" text-anchor="middle" font-weight="bold" font-style="normal" fill="#000" stroke="#000" stroke-width="0.22" >4</text>
<line x1="181.05" y1="560.80" x2="181.05" y2="562.00" stroke="#c8c8c8" stroke-width="0.6" />
<text x="212.70" y="569.70" font-size="5.1" text-anchor="middle" font-weight="bold" font-style="normal" fill="#000" stroke="#000" stroke-width="0.22" >5</text>
<line x1="202.15" y1="560.80" x2="202.15" y2="562.00" stroke="#c8c8c8" stroke-width="0.6" />
<text x="233.80" y="569.70" font-size="5.1" text-anchor="middle" font-weight="bold" font-style="normal" fill="#000" stroke="#000" stroke-width="0.22" >6</text>
<line x1="223.25" y1="560.80" x2="223.25" y2="562.00" stroke="#c8c8c8" stroke-width="0.6" />
<text x="254.90" y="569.70" font-size="5.1" text-anchor="middle" font-weight="bold" font-style="normal" fill="#000" stroke="#000" stroke-width="0.22" >7</text>
<line x1="244.35" y1="560.80" x2="244.35" y2="562.00" stroke="#c8c8c8" stroke-width="0.6" />
<text x="190.00" y="585.60" font-size="6.0" text-anchor="middle" font-weight="bold" font-style="normal" fill="#000" stroke="#000" stroke-width="0.22" >Days</text>
<text transform="translate(96.90,500.10) rotate(-90)" x="0" y="0" font-size="6.8" text-anchor="middle" font-weight="bold" fill="#000" stroke="#000" stroke-width="0.22" >Cell number ( x 10<tspan dy="-1.8" font-size="4.2">4</tspan><tspan dy="1.8">)</tspan></text>
<line x1="115.20" y1="507.30" x2="122.50" y2="512.60" stroke="#444" stroke-width="0.75" />
<line x1="114.20" y1="511.10" x2="121.40" y2="516.60" stroke="#444" stroke-width="0.75" />
<polyline points="128.30,552.94 149.40,550.47 170.50,542.83 191.60,544.18 212.70,547.32 233.80,553.61 254.90,557.43" fill="none" stroke="#4ad8e4" stroke-width="1.35" stroke-linejoin="round"/>
<circle cx="128.30" cy="552.94" r="1.30" fill="#4ad8e4"/>
<circle cx="149.40" cy="550.47" r="1.30" fill="#4ad8e4"/>
<circle cx="170.50" cy="542.83" r="1.30" fill="#4ad8e4"/>
<circle cx="191.60" cy="544.18" r="1.30" fill="#4ad8e4"/>
<circle cx="212.70" cy="547.32" r="1.30" fill="#4ad8e4"/>
<circle cx="233.80" cy="553.61" r="1.30" fill="#4ad8e4"/>
<circle cx="254.90" cy="557.43" r="1.30" fill="#4ad8e4"/>
<polyline points="128.30,552.94 149.40,551.82 170.50,543.95 191.60,539.69 212.70,534.97 233.80,529.36 254.90,523.52" fill="none" stroke="#7a1a78" stroke-width="1.35" stroke-linejoin="round"/>
<circle cx="128.30" cy="552.94" r="1.30" fill="#7a1a78"/>
<circle cx="149.40" cy="551.82" r="1.30" fill="#7a1a78"/>
<circle cx="170.50" cy="543.95" r="1.30" fill="#7a1a78"/>
<circle cx="191.60" cy="539.69" r="1.30" fill="#7a1a78"/>
<circle cx="212.70" cy="534.97" r="1.30" fill="#7a1a78"/>
<circle cx="233.80" cy="529.36" r="1.30" fill="#7a1a78"/>
<circle cx="254.90" cy="523.52" r="1.30" fill="#7a1a78"/>
<polyline points="128.30,552.94 149.40,553.61 170.50,554.06 191.60,555.63 212.70,556.31 233.80,556.76 254.90,557.43" fill="none" stroke="#e633e6" stroke-width="1.35" stroke-linejoin="round"/>
<circle cx="128.30" cy="552.94" r="1.30" fill="#e633e6"/>
<circle cx="149.40" cy="553.61" r="1.30" fill="#e633e6"/>
<circle cx="170.50" cy="554.06" r="1.30" fill="#e633e6"/>
<circle cx="191.60" cy="555.63" r="1.30" fill="#e633e6"/>
<circle cx="212.70" cy="556.31" r="1.30" fill="#e633e6"/>
<circle cx="233.80" cy="556.76" r="1.30" fill="#e633e6"/>
<circle cx="254.90" cy="557.43" r="1.30" fill="#e633e6"/>
<polyline points="128.30,552.94 149.40,550.47 170.50,540.59 191.60,524.86 212.70,506.33 233.80,478.45 254.90,461.23" fill="none" stroke="#f0a535" stroke-width="1.35" stroke-linejoin="round"/>
<rect x="128.04" y="551.64" width="0.52" height="2.60" fill="#f0a535"/>
<rect x="149.14" y="549.17" width="0.52" height="2.60" fill="#f0a535"/>
<rect x="170.24" y="539.29" width="0.52" height="2.60" fill="#f0a535"/>
<rect x="191.34" y="523.56" width="0.52" height="2.60" fill="#f0a535"/>
<rect x="212.44" y="505.03" width="0.52" height="2.60" fill="#f0a535"/>
<rect x="233.54" y="477.15" width="0.52" height="2.60" fill="#f0a535"/>
<rect x="254.64" y="459.93" width="0.52" height="2.60" fill="#f0a535"/>
<polyline points="128.30,552.94 149.40,551.82 170.50,542.83 191.60,530.48 212.70,515.88 233.80,491.17 254.90,470.96" fill="none" stroke="#1a1a78" stroke-width="1.35" stroke-linejoin="round"/>
<circle cx="128.30" cy="552.94" r="1.30" fill="#1a1a78"/>
<circle cx="149.40" cy="551.82" r="1.30" fill="#1a1a78"/>
<circle cx="170.50" cy="542.83" r="1.30" fill="#1a1a78"/>
<circle cx="191.60" cy="530.48" r="1.30" fill="#1a1a78"/>
<circle cx="212.70" cy="515.88" r="1.30" fill="#1a1a78"/>
<circle cx="233.80" cy="491.17" r="1.30" fill="#1a1a78"/>
<circle cx="254.90" cy="470.96" r="1.30" fill="#1a1a78"/>
<rect x="125.80" y="449.00" width="47.20" height="50.20" fill="#fff" stroke="#d0d0d0" stroke-width="0.6"/>
<line x1="129.20" y1="454.00" x2="137.40" y2="454.00" stroke="#1a1a78" stroke-width="1.1" />
<circle cx="133.30" cy="454.00" r="1.30" fill="#1a1a78"/>
<text x="138.80" y="456.03" font-size="5.65" text-anchor="start" font-weight="bold" font-style="normal" fill="#000" stroke="#000" stroke-width="0.22" >XG1-EV</text>
<line x1="129.20" y1="464.50" x2="137.40" y2="464.50" stroke="#e633e6" stroke-width="1.1" />
<circle cx="133.30" cy="464.50" r="1.30" fill="#e633e6"/>
<text x="138.80" y="466.53" font-size="5.65" text-anchor="start" font-weight="bold" font-style="normal" fill="#000" stroke="#000" stroke-width="0.22" >XG1-p27</text>
<line x1="129.20" y1="474.70" x2="137.40" y2="474.70" stroke="#f0a535" stroke-width="1.1" />
<rect x="133.04" y="473.40" width="0.52" height="2.60" fill="#f0a535"/>
<text x="138.80" y="476.73" font-size="5.65" text-anchor="start" font-weight="bold" font-style="normal" fill="#000" stroke="#000" stroke-width="0.22" >XG1-SCRAM</text>
<line x1="129.20" y1="484.30" x2="137.40" y2="484.30" stroke="#4ad8e4" stroke-width="1.1" />
<circle cx="133.30" cy="484.30" r="1.30" fill="#4ad8e4"/>
<text x="138.80" y="486.33" font-size="5.65" text-anchor="start" font-weight="bold" font-style="normal" fill="#000" stroke="#000" stroke-width="0.22" >XG1-CKS1B</text>
<line x1="129.20" y1="494.60" x2="137.40" y2="494.60" stroke="#7a1a78" stroke-width="1.1" />
<circle cx="133.30" cy="494.60" r="1.30" fill="#7a1a78"/>
<text x="138.80" y="496.63" font-size="5.65" text-anchor="start" font-weight="bold" font-style="normal" fill="#000" stroke="#000" stroke-width="0.22" >XG1-SKP2</text>
<text x="264.00" y="441.70" font-size="12" text-anchor="start" font-weight="bold" font-style="normal" fill="#000" >L</text>
<line x1="289.20" y1="446.00" x2="289.20" y2="559.50" stroke="#d4d4d4" stroke-width="0.8" />
<line x1="289.20" y1="559.50" x2="420.00" y2="559.50" stroke="#d4d4d4" stroke-width="0.8" />
<text x="287.00" y="561.44" font-size="5.4" text-anchor="end" font-weight="bold" font-style="normal" fill="#000" stroke="#000" stroke-width="0.22" >0</text>
<line x1="288.00" y1="559.50" x2="289.20" y2="559.50" stroke="#c8c8c8" stroke-width="0.6" />
<text x="287.00" y="550.09" font-size="5.4" text-anchor="end" font-weight="bold" font-style="normal" fill="#000" stroke="#000" stroke-width="0.22" >10</text>
<line x1="288.00" y1="548.15" x2="289.20" y2="548.15" stroke="#c8c8c8" stroke-width="0.6" />
<text x="287.00" y="538.74" font-size="5.4" text-anchor="end" font-weight="bold" font-style="normal" fill="#000" stroke="#000" stroke-width="0.22" >20</text>
<line x1="288.00" y1="536.80" x2="289.20" y2="536.80" stroke="#c8c8c8" stroke-width="0.6" />
<text x="287.00" y="527.39" font-size="5.4" text-anchor="end" font-weight="bold" font-style="normal" fill="#000" stroke="#000" stroke-width="0.22" >30</text>
<line x1="288.00" y1="525.45" x2="289.20" y2="525.45" stroke="#c8c8c8" stroke-width="0.6" />
<text x="287.00" y="516.04" font-size="5.4" text-anchor="end" font-weight="bold" font-style="normal" fill="#000" stroke="#000" stroke-width="0.22" >40</text>
<line x1="288.00" y1="514.10" x2="289.20" y2="514.10" stroke="#c8c8c8" stroke-width="0.6" />
<text x="287.00" y="504.69" font-size="5.4" text-anchor="end" font-weight="bold" font-style="normal" fill="#000" stroke="#000" stroke-width="0.22" >50</text>
<line x1="288.00" y1="502.75" x2="289.20" y2="502.75" stroke="#c8c8c8" stroke-width="0.6" />
<text x="287.00" y="493.34" font-size="5.4" text-anchor="end" font-weight="bold" font-style="normal" fill="#000" stroke="#000" stroke-width="0.22" >60</text>
<line x1="288.00" y1="491.40" x2="289.20" y2="491.40" stroke="#c8c8c8" stroke-width="0.6" />
<text x="287.00" y="481.99" font-size="5.4" text-anchor="end" font-weight="bold" font-style="normal" fill="#000" stroke="#000" stroke-width="0.22" >70</text>
<line x1="288.00" y1="480.05" x2="289.20" y2="480.05" stroke="#c8c8c8" stroke-width="0.6" />
<text x="287.00" y="470.64" font-size="5.4" text-anchor="end" font-weight="bold" font-style="normal" fill="#000" stroke="#000" stroke-width="0.22" >80</text>
<line x1="288.00" y1="468.70" x2="289.20" y2="468.70" stroke="#c8c8c8" stroke-width="0.6" />
<text x="287.00" y="459.29" font-size="5.4" text-anchor="end" font-weight="bold" font-style="normal" fill="#000" stroke="#000" stroke-width="0.22" >90</text>
<line x1="288.00" y1="457.35" x2="289.20" y2="457.35" stroke="#c8c8c8" stroke-width="0.6" />
<text x="287.00" y="447.94" font-size="5.4" text-anchor="end" font-weight="bold" font-style="normal" fill="#000" stroke="#000" stroke-width="0.22" >100</text>
<line x1="288.00" y1="446.00" x2="289.20" y2="446.00" stroke="#c8c8c8" stroke-width="0.6" />
<text x="299.40" y="568.80" font-size="5.4" text-anchor="middle" font-weight="bold" font-style="normal" fill="#000" stroke="#000" stroke-width="0.22" >1</text>
<line x1="289.80" y1="559.50" x2="289.80" y2="560.70" stroke="#c8c8c8" stroke-width="0.6" />
<text x="318.60" y="568.80" font-size="5.4" text-anchor="middle" font-weight="bold" font-style="normal" fill="#000" stroke="#000" stroke-width="0.22" >2</text>
<line x1="309.00" y1="559.50" x2="309.00" y2="560.70" stroke="#c8c8c8" stroke-width="0.6" />
<text x="337.80" y="568.80" font-size="5.4" text-anchor="middle" font-weight="bold" font-style="normal" fill="#000" stroke="#000" stroke-width="0.22" >3</text>
<line x1="328.20" y1="559.50" x2="328.20" y2="560.70" stroke="#c8c8c8" stroke-width="0.6" />
<text x="357.00" y="568.80" font-size="5.4" text-anchor="middle" font-weight="bold" font-style="normal" fill="#000" stroke="#000" stroke-width="0.22" >4</text>
<line x1="347.40" y1="559.50" x2="347.40" y2="560.70" stroke="#c8c8c8" stroke-width="0.6" />
<text x="376.20" y="568.80" font-size="5.4" text-anchor="middle" font-weight="bold" font-style="normal" fill="#000" stroke="#000" stroke-width="0.22" >5</text>
<line x1="366.60" y1="559.50" x2="366.60" y2="560.70" stroke="#c8c8c8" stroke-width="0.6" />
<text x="395.40" y="568.80" font-size="5.4" text-anchor="middle" font-weight="bold" font-style="normal" fill="#000" stroke="#000" stroke-width="0.22" >6</text>
<line x1="385.80" y1="559.50" x2="385.80" y2="560.70" stroke="#c8c8c8" stroke-width="0.6" />
<text x="414.60" y="568.80" font-size="5.4" text-anchor="middle" font-weight="bold" font-style="normal" fill="#000" stroke="#000" stroke-width="0.22" >7</text>
<line x1="405.00" y1="559.50" x2="405.00" y2="560.70" stroke="#c8c8c8" stroke-width="0.6" />
<text x="357.70" y="584.40" font-size="6.0" text-anchor="middle" font-weight="bold" font-style="normal" fill="#000" stroke="#000" stroke-width="0.22" >Days</text>
<text transform="translate(272.40,500.50) rotate(-90)" x="0" y="0" font-size="6.8" text-anchor="middle" font-weight="bold" fill="#000" stroke="#000" stroke-width="0.22" >Cell Viability (%)</text>
<polyline points="299.40,457.35 318.60,458.49 337.80,460.75 357.00,480.05 376.20,503.88 395.40,534.53 414.60,551.55" fill="none" stroke="#4ad8e4" stroke-width="1.35" stroke-linejoin="round"/>
<circle cx="299.40" cy="457.35" r="1.30" fill="#4ad8e4"/>
<circle cx="318.60" cy="458.49" r="1.30" fill="#4ad8e4"/>
<circle cx="337.80" cy="460.75" r="1.30" fill="#4ad8e4"/>
<circle cx="357.00" cy="480.05" r="1.30" fill="#4ad8e4"/>
<circle cx="376.20" cy="503.88" r="1.30" fill="#4ad8e4"/>
<circle cx="395.40" cy="534.53" r="1.30" fill="#4ad8e4"/>
<circle cx="414.60" cy="551.55" r="1.30" fill="#4ad8e4"/>
<polyline points="299.40,457.35 318.60,458.49 337.80,459.62 357.00,470.97 376.20,474.38 395.40,491.40 414.60,499.34" fill="none" stroke="#7a1a78" stroke-width="1.35" stroke-linejoin="round"/>
<circle cx="299.40" cy="457.35" r="1.30" fill="#7a1a78"/>
<circle cx="318.60" cy="458.49" r="1.30" fill="#7a1a78"/>
<circle cx="337.80" cy="459.62" r="1.30" fill="#7a1a78"/>
<circle cx="357.00" cy="470.97" r="1.30" fill="#7a1a78"/>
<circle cx="376.20" cy="474.38" r="1.30" fill="#7a1a78"/>
<circle cx="395.40" cy="491.40" r="1.30" fill="#7a1a78"/>
<circle cx="414.60" cy="499.34" r="1.30" fill="#7a1a78"/>
<polyline points="299.40,457.35 318.60,464.16 337.80,467.56 357.00,476.64 376.20,491.40 395.40,500.48 414.60,509.56" fill="none" stroke="#e633e6" stroke-width="1.35" stroke-linejoin="round"/>
<circle cx="299.40" cy="457.35" r="1.30" fill="#e633e6"/>
<circle cx="318.60" cy="464.16" r="1.30" fill="#e633e6"/>
<circle cx="337.80" cy="467.56" r="1.30" fill="#e633e6"/>
<circle cx="357.00" cy="476.64" r="1.30" fill="#e633e6"/>
<circle cx="376.20" cy="491.40" r="1.30" fill="#e633e6"/>
<circle cx="395.40" cy="500.48" r="1.30" fill="#e633e6"/>
<circle cx="414.60" cy="509.56" r="1.30" fill="#e633e6"/>
<polyline points="299.40,457.35 318.60,459.62 337.80,459.62 357.00,459.62 376.20,461.89 395.40,463.02 414.60,463.02" fill="none" stroke="#f0a535" stroke-width="1.35" stroke-linejoin="round"/>
<rect x="299.14" y="456.05" width="0.52" height="2.60" fill="#f0a535"/>
<rect x="318.34" y="458.32" width="0.52" height="2.60" fill="#f0a535"/>
<rect x="337.54" y="458.32" width="0.52" height="2.60" fill="#f0a535"/>
<rect x="356.74" y="458.32" width="0.52" height="2.60" fill="#f0a535"/>
<rect x="375.94" y="460.59" width="0.52" height="2.60" fill="#f0a535"/>
<rect x="395.14" y="461.72" width="0.52" height="2.60" fill="#f0a535"/>
<rect x="414.34" y="461.72" width="0.52" height="2.60" fill="#f0a535"/>
<polyline points="299.40,457.35 318.60,457.35 337.80,457.35 357.00,458.49 376.20,461.89 395.40,465.30 414.60,464.16" fill="none" stroke="#1a1a78" stroke-width="1.35" stroke-linejoin="round"/>
<circle cx="299.40" cy="457.35" r="1.30" fill="#1a1a78"/>
<circle cx="318.60" cy="457.35" r="1.30" fill="#1a1a78"/>
<circle cx="337.80" cy="457.35" r="1.30" fill="#1a1a78"/>
<circle cx="357.00" cy="458.49" r="1.30" fill="#1a1a78"/>
<circle cx="376.20" cy="461.89" r="1.30" fill="#1a1a78"/>
<circle cx="395.40" cy="465.30" r="1.30" fill="#1a1a78"/>
<circle cx="414.60" cy="464.16" r="1.30" fill="#1a1a78"/>
<rect x="294.80" y="492.60" width="45.60" height="53.30" fill="#fff" stroke="#d0d0d0" stroke-width="0.6"/>
<line x1="297.80" y1="498.40" x2="305.60" y2="498.40" stroke="#1a1a78" stroke-width="1.1" />
<circle cx="301.70" cy="498.40" r="1.30" fill="#1a1a78"/>
<text x="307.80" y="500.38" font-size="5.5" text-anchor="start" font-weight="bold" font-style="normal" fill="#000" stroke="#000" stroke-width="0.22" >XG1-EV</text>
<line x1="297.80" y1="509.30" x2="305.60" y2="509.30" stroke="#e633e6" stroke-width="1.1" />
<circle cx="301.70" cy="509.30" r="1.30" fill="#e633e6"/>
<text x="307.80" y="511.28" font-size="5.5" text-anchor="start" font-weight="bold" font-style="normal" fill="#000" stroke="#000" stroke-width="0.22" >XG1-p27</text>
<line x1="297.80" y1="520.30" x2="305.60" y2="520.30" stroke="#f0a535" stroke-width="1.1" />
<rect x="301.44" y="519.00" width="0.52" height="2.60" fill="#f0a535"/>
<text x="307.80" y="522.28" font-size="5.5" text-anchor="start" font-weight="bold" font-style="normal" fill="#000" stroke="#000" stroke-width="0.22" >XG1-SCRAM</text>
<line x1="297.80" y1="531.30" x2="305.60" y2="531.30" stroke="#4ad8e4" stroke-width="1.1" />
<circle cx="301.70" cy="531.30" r="1.30" fill="#4ad8e4"/>
<text x="307.80" y="533.28" font-size="5.5" text-anchor="start" font-weight="bold" font-style="normal" fill="#000" stroke="#000" stroke-width="0.22" >XG1-CKS1B</text>
<line x1="297.80" y1="542.00" x2="305.60" y2="542.00" stroke="#7a1a78" stroke-width="1.1" />
<circle cx="301.70" cy="542.00" r="1.30" fill="#7a1a78"/>
<text x="307.80" y="543.98" font-size="5.5" text-anchor="start" font-weight="bold" font-style="normal" fill="#000" stroke="#000" stroke-width="0.22" >XG1-SKP2</text>
</g>
</svg>
</body></html>
